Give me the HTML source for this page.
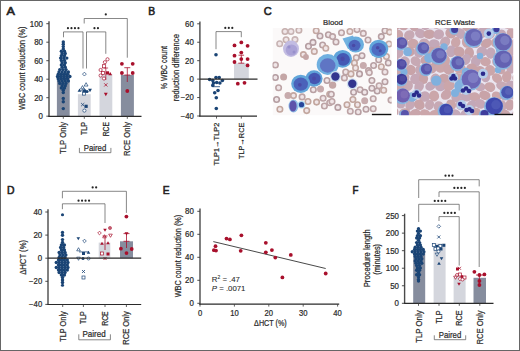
<!DOCTYPE html>
<html><head><meta charset="utf-8"><style>
html,body{margin:0;padding:0;background:#fff;overflow:hidden}
svg{display:block}
</style></head><body>
<svg width="520" height="351" viewBox="0 0 520 351" font-family="Liberation Sans, sans-serif">
<defs><filter id="bl1" x="-5%" y="-5%" width="110%" height="110%"><feGaussianBlur stdDeviation="0.45"/></filter><filter id="bl2" x="-5%" y="-5%" width="110%" height="110%"><feGaussianBlur stdDeviation="0.6"/></filter></defs>
<rect x="0" y="0" width="520" height="351" fill="#fff"/>
<text x="6.6" y="14.8" font-size="10" fill="#222" stroke="#222" stroke-width="0.55" textLength="8.4" lengthAdjust="spacingAndGlyphs">A</text>
<rect x="56.9" y="73.2" width="12.8" height="43" fill="#868d9e"/>
<rect x="77.9" y="94.2" width="12.8" height="22" fill="#d4d6dd"/>
<rect x="99.5" y="74.1" width="12.8" height="42.1" fill="#d4d6dd"/>
<rect x="120.9" y="75" width="13" height="41.2" fill="#868d9e"/>
<circle cx="63.3" cy="42" r="1.7" fill="#1a4475"/>
<circle cx="63.3" cy="44.3" r="1.7" fill="#1a4475"/>
<circle cx="63.3" cy="46.6" r="1.7" fill="#1a4475"/>
<circle cx="63.3" cy="48.9" r="1.7" fill="#1a4475"/>
<circle cx="61.35" cy="51.2" r="1.7" fill="#1a4475"/>
<circle cx="64.45" cy="51.2" r="1.7" fill="#1a4475"/>
<circle cx="62.15" cy="53.5" r="1.7" fill="#1a4475"/>
<circle cx="65.25" cy="53.5" r="1.7" fill="#1a4475"/>
<circle cx="61.35" cy="55.8" r="1.7" fill="#1a4475"/>
<circle cx="64.45" cy="55.8" r="1.7" fill="#1a4475"/>
<circle cx="60.6" cy="58.1" r="1.7" fill="#1a4475"/>
<circle cx="63.7" cy="58.1" r="1.7" fill="#1a4475"/>
<circle cx="66.8" cy="58.1" r="1.7" fill="#1a4475"/>
<circle cx="61.35" cy="60.4" r="1.7" fill="#1a4475"/>
<circle cx="64.45" cy="60.4" r="1.7" fill="#1a4475"/>
<circle cx="62.15" cy="62.7" r="1.7" fill="#1a4475"/>
<circle cx="65.25" cy="62.7" r="1.7" fill="#1a4475"/>
<circle cx="61.35" cy="65" r="1.7" fill="#1a4475"/>
<circle cx="64.45" cy="65" r="1.7" fill="#1a4475"/>
<circle cx="62.15" cy="67.3" r="1.7" fill="#1a4475"/>
<circle cx="65.25" cy="67.3" r="1.7" fill="#1a4475"/>
<circle cx="59.8" cy="69.6" r="1.7" fill="#1a4475"/>
<circle cx="62.9" cy="69.6" r="1.7" fill="#1a4475"/>
<circle cx="66" cy="69.6" r="1.7" fill="#1a4475"/>
<circle cx="59.05" cy="71.9" r="1.7" fill="#1a4475"/>
<circle cx="62.15" cy="71.9" r="1.7" fill="#1a4475"/>
<circle cx="65.25" cy="71.9" r="1.7" fill="#1a4475"/>
<circle cx="68.35" cy="71.9" r="1.7" fill="#1a4475"/>
<circle cx="58.25" cy="74.2" r="1.7" fill="#1a4475"/>
<circle cx="61.35" cy="74.2" r="1.7" fill="#1a4475"/>
<circle cx="64.45" cy="74.2" r="1.7" fill="#1a4475"/>
<circle cx="67.55" cy="74.2" r="1.7" fill="#1a4475"/>
<circle cx="57.5" cy="76.5" r="1.7" fill="#1a4475"/>
<circle cx="60.6" cy="76.5" r="1.7" fill="#1a4475"/>
<circle cx="63.7" cy="76.5" r="1.7" fill="#1a4475"/>
<circle cx="66.8" cy="76.5" r="1.7" fill="#1a4475"/>
<circle cx="69.9" cy="76.5" r="1.7" fill="#1a4475"/>
<circle cx="58.25" cy="78.8" r="1.7" fill="#1a4475"/>
<circle cx="61.35" cy="78.8" r="1.7" fill="#1a4475"/>
<circle cx="64.45" cy="78.8" r="1.7" fill="#1a4475"/>
<circle cx="67.55" cy="78.8" r="1.7" fill="#1a4475"/>
<circle cx="59.05" cy="81.1" r="1.7" fill="#1a4475"/>
<circle cx="62.15" cy="81.1" r="1.7" fill="#1a4475"/>
<circle cx="65.25" cy="81.1" r="1.7" fill="#1a4475"/>
<circle cx="68.35" cy="81.1" r="1.7" fill="#1a4475"/>
<circle cx="59.8" cy="83.4" r="1.7" fill="#1a4475"/>
<circle cx="62.9" cy="83.4" r="1.7" fill="#1a4475"/>
<circle cx="66" cy="83.4" r="1.7" fill="#1a4475"/>
<circle cx="62.15" cy="85.7" r="1.7" fill="#1a4475"/>
<circle cx="65.25" cy="85.7" r="1.7" fill="#1a4475"/>
<circle cx="61.35" cy="88" r="1.7" fill="#1a4475"/>
<circle cx="64.45" cy="88" r="1.7" fill="#1a4475"/>
<circle cx="63.3" cy="90.3" r="1.7" fill="#1a4475"/>
<circle cx="63.3" cy="92.6" r="1.7" fill="#1a4475"/>
<circle cx="63.3" cy="98.4" r="1.7" fill="#1a4475"/>
<circle cx="63.3" cy="101.8" r="1.7" fill="#1a4475"/>
<circle cx="63.3" cy="108.6" r="1.7" fill="#1a4475"/>
<path d="M84.4 72.18L86.32 74.1L84.4 76.02L82.48 74.1Z" fill="#fff" stroke="#1a4475" stroke-width="0.7"/>
<path d="M86.1 82.68L88.02 86.04L84.18 86.04Z" fill="#fff" stroke="#1a4475" stroke-width="0.7"/>
<path d="M82.5 85.58L84.42 88.94L80.58 88.94Z" fill="#fff" stroke="#1a4475" stroke-width="0.7"/>
<path d="M79.5 88.38L81.42 91.74L77.58 91.74Z" fill="#1a4475"/>
<rect x="82.4" y="91.9" width="3.2" height="3.2" fill="#fff" stroke="#1a4475" stroke-width="0.7"/>
<path d="M83.5 87.58L85.42 90.94L81.58 90.94Z" fill="#fff" stroke="#1a4475" stroke-width="0.7"/>
<rect x="82.9" y="89.4" width="3.2" height="3.2" fill="#1a4475"/>
<circle cx="87" cy="91.5" r="1.6" fill="#1a4475"/>
<path d="M90 92.22L91.92 88.86L88.08 88.86Z" fill="#1a4475"/>
<path d="M81.1 103L84.3 106.2M84.3 103L81.1 106.2" stroke="#1a4475" stroke-width="0.8"/>
<rect x="84.5" y="104.7" width="3.2" height="3.2" fill="#1a4475"/>
<circle cx="84.4" cy="110.6" r="1.6" fill="#fff" stroke="#1a4475" stroke-width="0.7"/>
<circle cx="107.5" cy="59.3" r="1.6" fill="#fff" stroke="#a8102c" stroke-width="0.7"/>
<circle cx="104.9" cy="62.2" r="1.6" fill="#fff" stroke="#a8102c" stroke-width="0.7"/>
<rect x="102.5" y="64.7" width="3.2" height="3.2" fill="#fff" stroke="#a8102c" stroke-width="0.7"/>
<circle cx="100.6" cy="70" r="1.6" fill="#fff" stroke="#a8102c" stroke-width="0.7"/>
<rect x="101.4" y="71.4" width="3.2" height="3.2" fill="#fff" stroke="#a8102c" stroke-width="0.7"/>
<rect x="105.9" y="71.3" width="3.2" height="3.2" fill="#a8102c"/>
<path d="M110.2 71.88L112.12 75.24L108.28 75.24Z" fill="#a8102c"/>
<circle cx="100.6" cy="75.5" r="1.6" fill="#fff" stroke="#a8102c" stroke-width="0.7"/>
<circle cx="104" cy="78.5" r="1.6" fill="#fff" stroke="#a8102c" stroke-width="0.7"/>
<path d="M104.2 83.3L107.4 86.5M107.4 83.3L104.2 86.5" stroke="#a8102c" stroke-width="0.8"/>
<path d="M105.8 96.22L107.72 92.86L103.88 92.86Z" fill="#a8102c"/>
<line x1="105.8" y1="68" x2="105.8" y2="80" stroke="#a8102c" stroke-width="0.7"/>
<line x1="103.5" y1="68" x2="108.1" y2="68" stroke="#a8102c" stroke-width="0.7"/>
<circle cx="121.9" cy="63.8" r="1.9" fill="#a8102c"/>
<circle cx="132.7" cy="63.8" r="1.9" fill="#a8102c"/>
<circle cx="121.9" cy="73" r="1.9" fill="#a8102c"/>
<circle cx="132.7" cy="73" r="1.9" fill="#a8102c"/>
<circle cx="127.3" cy="91" r="1.9" fill="#a8102c"/>
<line x1="127.3" y1="67.7" x2="127.3" y2="82" stroke="#a8102c" stroke-width="0.8"/>
<line x1="124.3" y1="67.7" x2="130.3" y2="67.7" stroke="#a8102c" stroke-width="0.8"/>
<line x1="124.3" y1="75" x2="130.3" y2="75" stroke="#a8102c" stroke-width="0.8"/>
<line x1="49" y1="21.2" x2="49" y2="116.8" stroke="#4a4a4a" stroke-width="1.4"/>
<line x1="48.3" y1="116.3" x2="141.5" y2="116.3" stroke="#2a2a2a" stroke-width="1.2"/>
<line x1="46.3" y1="23.7" x2="49" y2="23.7" stroke="#3a3a3a" stroke-width="0.9"/>
<text x="43" y="26.6" font-size="8.2" fill="#2a2a2a" stroke="#2a2a2a" stroke-width="0.22" text-anchor="end" textLength="13.2" lengthAdjust="spacingAndGlyphs">100</text>
<line x1="46.3" y1="42.2" x2="49" y2="42.2" stroke="#3a3a3a" stroke-width="0.9"/>
<text x="43" y="45.1" font-size="8.2" fill="#2a2a2a" stroke="#2a2a2a" stroke-width="0.22" text-anchor="end" textLength="8.8" lengthAdjust="spacingAndGlyphs">80</text>
<line x1="46.3" y1="60.7" x2="49" y2="60.7" stroke="#3a3a3a" stroke-width="0.9"/>
<text x="43" y="63.6" font-size="8.2" fill="#2a2a2a" stroke="#2a2a2a" stroke-width="0.22" text-anchor="end" textLength="8.8" lengthAdjust="spacingAndGlyphs">60</text>
<line x1="46.3" y1="79.2" x2="49" y2="79.2" stroke="#3a3a3a" stroke-width="0.9"/>
<text x="43" y="82.1" font-size="8.2" fill="#2a2a2a" stroke="#2a2a2a" stroke-width="0.22" text-anchor="end" textLength="8.8" lengthAdjust="spacingAndGlyphs">40</text>
<line x1="46.3" y1="97.7" x2="49" y2="97.7" stroke="#3a3a3a" stroke-width="0.9"/>
<text x="43" y="100.6" font-size="8.2" fill="#2a2a2a" stroke="#2a2a2a" stroke-width="0.22" text-anchor="end" textLength="8.8" lengthAdjust="spacingAndGlyphs">20</text>
<line x1="46.3" y1="116.2" x2="49" y2="116.2" stroke="#3a3a3a" stroke-width="0.9"/>
<text x="43" y="119.1" font-size="8.2" fill="#2a2a2a" stroke="#2a2a2a" stroke-width="0.22" text-anchor="end" textLength="4.4" lengthAdjust="spacingAndGlyphs">0</text>
<line x1="63.3" y1="116.2" x2="63.3" y2="118.8" stroke="#3a3a3a" stroke-width="0.8"/>
<line x1="84.3" y1="116.2" x2="84.3" y2="118.8" stroke="#3a3a3a" stroke-width="0.8"/>
<line x1="105.5" y1="116.2" x2="105.5" y2="118.8" stroke="#3a3a3a" stroke-width="0.8"/>
<line x1="127.3" y1="116.2" x2="127.3" y2="118.8" stroke="#3a3a3a" stroke-width="0.8"/>
<text transform="translate(25.4,68.2) rotate(-90)" font-size="8.5" fill="#2a2a2a" stroke="#2a2a2a" stroke-width="0.22" text-anchor="middle" textLength="83.5" lengthAdjust="spacingAndGlyphs">WBC count reduction (%)</text>
<text transform="translate(66.3,122) rotate(-90)" font-size="8.6" fill="#2a2a2a" stroke="#2a2a2a" stroke-width="0.22" text-anchor="end" textLength="32" lengthAdjust="spacingAndGlyphs">TLP Only</text>
<text transform="translate(87.3,122) rotate(-90)" font-size="8.6" fill="#2a2a2a" stroke="#2a2a2a" stroke-width="0.22" text-anchor="end" textLength="13" lengthAdjust="spacingAndGlyphs">TLP</text>
<text transform="translate(108.5,122) rotate(-90)" font-size="8.6" fill="#2a2a2a" stroke="#2a2a2a" stroke-width="0.22" text-anchor="end" textLength="14.3" lengthAdjust="spacingAndGlyphs">RCE</text>
<text transform="translate(130.3,122) rotate(-90)" font-size="8.6" fill="#2a2a2a" stroke="#2a2a2a" stroke-width="0.22" text-anchor="end" textLength="34" lengthAdjust="spacingAndGlyphs">RCE Only</text>
<text x="95" y="150.5" font-size="8.5" fill="#2a2a2a" stroke="#2a2a2a" stroke-width="0.22" text-anchor="middle" textLength="22.5" lengthAdjust="spacingAndGlyphs">Paired</text>
<polyline points="79.4,147.9 79.4,152.7 110.9,152.7 110.9,147.9" fill="none" stroke="#555" stroke-width="0.7"/>
<polyline points="63.5,37.3 63.5,31.9 83,31.9 83,68.5" fill="none" stroke="#555" stroke-width="0.7"/>
<polyline points="86.5,68.5 86.5,31.9 105.8,31.9 105.8,53.8" fill="none" stroke="#555" stroke-width="0.7"/>
<polyline points="84.2,23.5 84.2,18.5 127.3,18.5 127.3,57.7" fill="none" stroke="#555" stroke-width="0.7"/>
<circle cx="67.95" cy="28.2" r="1.1" fill="#262626"/>
<circle cx="71.45" cy="28.2" r="1.1" fill="#262626"/>
<circle cx="74.95" cy="28.2" r="1.1" fill="#262626"/>
<circle cx="78.45" cy="28.2" r="1.1" fill="#262626"/>
<circle cx="94.45" cy="28.2" r="1.1" fill="#262626"/>
<circle cx="97.95" cy="28.2" r="1.1" fill="#262626"/>
<circle cx="105.8" cy="14.4" r="1.1" fill="#262626"/>
<text x="148.2" y="14.5" font-size="10" fill="#222" stroke="#222" stroke-width="0.55" textLength="6.9" lengthAdjust="spacingAndGlyphs">B</text>
<rect x="234" y="63.2" width="14.8" height="15.9" fill="#d4d6dd"/>
<circle cx="234.5" cy="45.4" r="1.9" fill="#a8102c"/>
<circle cx="241.3" cy="42.4" r="1.9" fill="#a8102c"/>
<circle cx="247.6" cy="45.8" r="1.9" fill="#a8102c"/>
<circle cx="241.3" cy="52.6" r="1.9" fill="#a8102c"/>
<circle cx="234.5" cy="55.7" r="1.9" fill="#a8102c"/>
<circle cx="247.6" cy="59.1" r="1.9" fill="#a8102c"/>
<circle cx="241.3" cy="59.1" r="1.9" fill="#a8102c"/>
<circle cx="234.5" cy="62" r="1.9" fill="#a8102c"/>
<circle cx="247.6" cy="65.4" r="1.9" fill="#a8102c"/>
<circle cx="237.8" cy="83.7" r="1.9" fill="#a8102c"/>
<circle cx="244.5" cy="82.8" r="1.9" fill="#a8102c"/>
<line x1="241.3" y1="55.2" x2="241.3" y2="63.2" stroke="#a8102c" stroke-width="0.8"/>
<line x1="238.5" y1="55.2" x2="244.1" y2="55.2" stroke="#a8102c" stroke-width="0.8"/>
<line x1="238.3" y1="63.2" x2="244.3" y2="63.2" stroke="#a8102c" stroke-width="0.8"/>
<circle cx="216" cy="54.8" r="1.8" fill="#1a4475"/>
<circle cx="209.6" cy="79.5" r="1.8" fill="#1a4475"/>
<circle cx="212.8" cy="80.5" r="1.8" fill="#1a4475"/>
<circle cx="216" cy="77.5" r="1.8" fill="#1a4475"/>
<circle cx="219.2" cy="77.5" r="1.8" fill="#1a4475"/>
<circle cx="222.4" cy="80.5" r="1.8" fill="#1a4475"/>
<circle cx="213.5" cy="83" r="1.8" fill="#1a4475"/>
<circle cx="216.7" cy="82.5" r="1.8" fill="#1a4475"/>
<circle cx="219.9" cy="83" r="1.8" fill="#1a4475"/>
<circle cx="212.8" cy="85.4" r="1.8" fill="#1a4475"/>
<circle cx="218" cy="90.5" r="1.8" fill="#1a4475"/>
<circle cx="214.7" cy="92.7" r="1.8" fill="#1a4475"/>
<circle cx="216.3" cy="97.7" r="1.8" fill="#1a4475"/>
<circle cx="216.3" cy="108.5" r="1.8" fill="#1a4475"/>
<line x1="213" y1="86.7" x2="220" y2="86.7" stroke="#1a4475" stroke-width="0.8"/>
<line x1="199.9" y1="21.5" x2="199.9" y2="116.6" stroke="#4a4a4a" stroke-width="1.4"/>
<line x1="199.2" y1="116.1" x2="257" y2="116.1" stroke="#2a2a2a" stroke-width="1.2"/>
<line x1="199.9" y1="79.1" x2="257.5" y2="79.1" stroke="#2a2a2a" stroke-width="1.2"/>
<line x1="197.2" y1="23.8" x2="199.9" y2="23.8" stroke="#3a3a3a" stroke-width="0.9"/>
<text x="193.9" y="26.7" font-size="8.2" fill="#2a2a2a" stroke="#2a2a2a" stroke-width="0.22" text-anchor="end" textLength="8.8" lengthAdjust="spacingAndGlyphs">60</text>
<line x1="197.2" y1="42.24" x2="199.9" y2="42.24" stroke="#3a3a3a" stroke-width="0.9"/>
<text x="193.9" y="45.14" font-size="8.2" fill="#2a2a2a" stroke="#2a2a2a" stroke-width="0.22" text-anchor="end" textLength="8.8" lengthAdjust="spacingAndGlyphs">40</text>
<line x1="197.2" y1="60.68" x2="199.9" y2="60.68" stroke="#3a3a3a" stroke-width="0.9"/>
<text x="193.9" y="63.58" font-size="8.2" fill="#2a2a2a" stroke="#2a2a2a" stroke-width="0.22" text-anchor="end" textLength="8.8" lengthAdjust="spacingAndGlyphs">20</text>
<line x1="197.2" y1="79.12" x2="199.9" y2="79.12" stroke="#3a3a3a" stroke-width="0.9"/>
<text x="193.9" y="82.02" font-size="8.2" fill="#2a2a2a" stroke="#2a2a2a" stroke-width="0.22" text-anchor="end" textLength="4.4" lengthAdjust="spacingAndGlyphs">0</text>
<line x1="197.2" y1="97.56" x2="199.9" y2="97.56" stroke="#3a3a3a" stroke-width="0.9"/>
<text x="193.9" y="100.46" font-size="8.2" fill="#2a2a2a" stroke="#2a2a2a" stroke-width="0.22" text-anchor="end" textLength="13.1" lengthAdjust="spacingAndGlyphs">−20</text>
<line x1="197.2" y1="116" x2="199.9" y2="116" stroke="#3a3a3a" stroke-width="0.9"/>
<text x="193.9" y="118.9" font-size="8.2" fill="#2a2a2a" stroke="#2a2a2a" stroke-width="0.22" text-anchor="end" textLength="13.1" lengthAdjust="spacingAndGlyphs">−40</text>
<line x1="216.5" y1="116" x2="216.5" y2="118.6" stroke="#3a3a3a" stroke-width="0.8"/>
<line x1="241.3" y1="116" x2="241.3" y2="118.6" stroke="#3a3a3a" stroke-width="0.8"/>
<text transform="translate(166.6,67.6) rotate(-90)" font-size="8.3" fill="#2a2a2a" stroke="#2a2a2a" stroke-width="0.22" text-anchor="middle" textLength="43.1" lengthAdjust="spacingAndGlyphs">% WBC count</text>
<text transform="translate(178.6,67.7) rotate(-90)" font-size="8.3" fill="#2a2a2a" stroke="#2a2a2a" stroke-width="0.22" text-anchor="middle" textLength="67.3" lengthAdjust="spacingAndGlyphs">reduction difference</text>
<text transform="translate(218.8,122.6) rotate(-90)" font-size="7.9" fill="#2a2a2a" stroke="#2a2a2a" stroke-width="0.22" text-anchor="end" textLength="43" lengthAdjust="spacingAndGlyphs">TLP1→TLP2</text>
<text transform="translate(243.6,122.6) rotate(-90)" font-size="7.9" fill="#2a2a2a" stroke="#2a2a2a" stroke-width="0.22" text-anchor="end" textLength="36.4" lengthAdjust="spacingAndGlyphs">TLP→RCE</text>
<polyline points="216,49.2 216,31.6 241.3,31.6 241.3,37.2" fill="none" stroke="#555" stroke-width="0.7"/>
<circle cx="225.3" cy="27.9" r="1.1" fill="#262626"/>
<circle cx="228.8" cy="27.9" r="1.1" fill="#262626"/>
<circle cx="232.3" cy="27.9" r="1.1" fill="#262626"/>
<text x="263.7" y="15" font-size="10" fill="#222" stroke="#222" stroke-width="0.55" textLength="8" lengthAdjust="spacingAndGlyphs">C</text>
<text x="333" y="24.8" font-size="8" fill="#2a2a2a" stroke="#2a2a2a" stroke-width="0.22" text-anchor="middle" textLength="19.8" lengthAdjust="spacingAndGlyphs">Blood</text>
<text x="455" y="25.3" font-size="8" fill="#2a2a2a" stroke="#2a2a2a" stroke-width="0.22" text-anchor="middle" textLength="40" lengthAdjust="spacingAndGlyphs">RCE Waste</text>
<svg x="272.5" y="28" width="119.2" height="87.5" viewBox="272.5 28 119.2 87.5" overflow="hidden">
<rect x="272.5" y="28" width="119.2" height="87.5" fill="#fbf9f9"/>
<g filter="url(#bl2)">
<circle cx="285" cy="31.5" r="2.75" fill="#f0e6e8" stroke="#c6b0ae" stroke-width="1.6"/>
<circle cx="291" cy="31.5" r="2.75" fill="#f0e6e8" stroke="#c8b4b4" stroke-width="1.6"/>
<circle cx="298.9" cy="30.2" r="2.75" fill="#f0e6e8" stroke="#c6b0ae" stroke-width="1.6"/>
<circle cx="316.2" cy="30.8" r="2.75" fill="#f0e6e8" stroke="#c4a8a2" stroke-width="1.6"/>
<circle cx="328.4" cy="34.7" r="2.75" fill="#f0e6e8" stroke="#b8a0a3" stroke-width="1.6"/>
<circle cx="286.1" cy="39.8" r="2.75" fill="#f0e6e8" stroke="#c6b0ae" stroke-width="1.6"/>
<circle cx="295" cy="39.6" r="2.75" fill="#f0e6e8" stroke="#c8b4b4" stroke-width="1.6"/>
<circle cx="279.7" cy="43.7" r="2.75" fill="#f0e6e8" stroke="#c8b4b4" stroke-width="1.6"/>
<circle cx="303.4" cy="54.6" r="2.75" fill="#f0e6e8" stroke="#c4a8a2" stroke-width="1.6"/>
<circle cx="308.5" cy="46.2" r="2.75" fill="#f0e6e8" stroke="#b59ea2" stroke-width="1.6"/>
<circle cx="313" cy="42.4" r="2.75" fill="#f0e6e8" stroke="#b59ea2" stroke-width="1.6"/>
<circle cx="314.3" cy="51.4" r="2.75" fill="#f0e6e8" stroke="#c4a8a2" stroke-width="1.6"/>
<circle cx="322.6" cy="45" r="2.75" fill="#f0e6e8" stroke="#b8a0a3" stroke-width="1.6"/>
<circle cx="325.8" cy="48.2" r="2.75" fill="#f0e6e8" stroke="#c4a8a2" stroke-width="1.6"/>
<circle cx="341.5" cy="32.8" r="2.75" fill="#f0e6e8" stroke="#bda4a6" stroke-width="1.6"/>
<circle cx="349.9" cy="31.5" r="2.75" fill="#f0e6e8" stroke="#c4a8a2" stroke-width="1.6"/>
<circle cx="357" cy="29.6" r="2.75" fill="#f0e6e8" stroke="#bda4a6" stroke-width="1.6"/>
<circle cx="363.3" cy="33.4" r="2.75" fill="#f0e6e8" stroke="#bda4a6" stroke-width="1.6"/>
<circle cx="332.6" cy="36.6" r="2.75" fill="#f0e6e8" stroke="#bda4a6" stroke-width="1.6"/>
<circle cx="381.3" cy="36.6" r="2.75" fill="#f0e6e8" stroke="#b8a0a3" stroke-width="1.6"/>
<circle cx="385" cy="30.8" r="2.75" fill="#f0e6e8" stroke="#b8a0a3" stroke-width="1.6"/>
<circle cx="389.6" cy="32.1" r="2.75" fill="#f0e6e8" stroke="#c4a8a2" stroke-width="1.6"/>
<circle cx="356.3" cy="57.8" r="2.75" fill="#f0e6e8" stroke="#bda4a6" stroke-width="1.6"/>
<circle cx="362" cy="55.8" r="2.75" fill="#f0e6e8" stroke="#b59ea2" stroke-width="1.6"/>
<circle cx="354.4" cy="62.9" r="2.75" fill="#f0e6e8" stroke="#c2a69e" stroke-width="1.6"/>
<circle cx="363.3" cy="65.5" r="3.5" fill="#c7abad"/>
<circle cx="355.6" cy="68" r="2.75" fill="#f0e6e8" stroke="#c4a8a2" stroke-width="1.6"/>
<circle cx="378.7" cy="59.7" r="2.75" fill="#f0e6e8" stroke="#b8a0a3" stroke-width="1.6"/>
<circle cx="386.4" cy="56.5" r="2.75" fill="#f0e6e8" stroke="#c4a8a2" stroke-width="1.6"/>
<circle cx="373.6" cy="65.5" r="2.75" fill="#f0e6e8" stroke="#b8a0a3" stroke-width="1.6"/>
<circle cx="381.3" cy="66.7" r="2.75" fill="#f0e6e8" stroke="#c2a69e" stroke-width="1.6"/>
<circle cx="388.3" cy="62.9" r="2.75" fill="#f0e6e8" stroke="#b59ea2" stroke-width="1.6"/>
<circle cx="368.5" cy="70.6" r="2.75" fill="#f0e6e8" stroke="#bda4a6" stroke-width="1.6"/>
<circle cx="278.6" cy="87.7" r="2.75" fill="#f0e6e8" stroke="#bda4a6" stroke-width="1.6"/>
<circle cx="276.6" cy="99.5" r="2.75" fill="#f0e6e8" stroke="#b59ea2" stroke-width="1.6"/>
<circle cx="279.9" cy="109.3" r="2.75" fill="#f0e6e8" stroke="#c2a69e" stroke-width="1.6"/>
<circle cx="288" cy="95.6" r="3.5" fill="#c7abad"/>
<circle cx="293.5" cy="95.6" r="2.75" fill="#f0e6e8" stroke="#c4a8a2" stroke-width="1.6"/>
<circle cx="302.1" cy="96.9" r="2.75" fill="#f0e6e8" stroke="#bda4a6" stroke-width="1.6"/>
<circle cx="308" cy="101.5" r="2.75" fill="#f0e6e8" stroke="#c2a69e" stroke-width="1.6"/>
<circle cx="306.7" cy="110.6" r="2.75" fill="#f0e6e8" stroke="#c2a69e" stroke-width="1.6"/>
<circle cx="313.3" cy="89.7" r="2.75" fill="#f0e6e8" stroke="#b8a0a3" stroke-width="1.6"/>
<circle cx="320.5" cy="89" r="3.5" fill="#c7abad"/>
<circle cx="316.6" cy="102.1" r="2.75" fill="#f0e6e8" stroke="#c2a69e" stroke-width="1.6"/>
<circle cx="323.1" cy="98.2" r="2.75" fill="#f0e6e8" stroke="#bda4a6" stroke-width="1.6"/>
<circle cx="324.4" cy="106" r="2.75" fill="#f0e6e8" stroke="#bda4a6" stroke-width="1.6"/>
<circle cx="329.7" cy="94.2" r="2.75" fill="#f0e6e8" stroke="#c4a8a2" stroke-width="1.6"/>
<circle cx="329.7" cy="102.8" r="2.75" fill="#f0e6e8" stroke="#bda4a6" stroke-width="1.6"/>
<circle cx="327" cy="80.5" r="2.75" fill="#f0e6e8" stroke="#b59ea2" stroke-width="1.6"/>
<circle cx="345.7" cy="72" r="2.75" fill="#f0e6e8" stroke="#bda4a6" stroke-width="1.6"/>
<circle cx="351" cy="73.9" r="2.75" fill="#f0e6e8" stroke="#c2a69e" stroke-width="1.6"/>
<circle cx="359.5" cy="73.9" r="2.75" fill="#f0e6e8" stroke="#b59ea2" stroke-width="1.6"/>
<circle cx="369.3" cy="72.6" r="2.75" fill="#f0e6e8" stroke="#bda4a6" stroke-width="1.6"/>
<circle cx="385" cy="72" r="2.75" fill="#f0e6e8" stroke="#bda4a6" stroke-width="1.6"/>
<circle cx="344.4" cy="77.9" r="2.75" fill="#f0e6e8" stroke="#bda4a6" stroke-width="1.6"/>
<circle cx="371.9" cy="80.5" r="2.75" fill="#f0e6e8" stroke="#b8a0a3" stroke-width="1.6"/>
<circle cx="385" cy="81.8" r="2.75" fill="#f0e6e8" stroke="#b8a0a3" stroke-width="1.6"/>
<circle cx="360.1" cy="89.7" r="2.75" fill="#f0e6e8" stroke="#bda4a6" stroke-width="1.6"/>
<circle cx="364.7" cy="92.3" r="2.75" fill="#f0e6e8" stroke="#b59ea2" stroke-width="1.6"/>
<circle cx="353.6" cy="92.3" r="2.75" fill="#f0e6e8" stroke="#b59ea2" stroke-width="1.6"/>
<circle cx="371.9" cy="88.3" r="2.75" fill="#f0e6e8" stroke="#b59ea2" stroke-width="1.6"/>
<circle cx="377.2" cy="91" r="2.75" fill="#f0e6e8" stroke="#b59ea2" stroke-width="1.6"/>
<circle cx="379.1" cy="85.7" r="2.75" fill="#f0e6e8" stroke="#bda4a6" stroke-width="1.6"/>
<circle cx="383.7" cy="90.3" r="2.75" fill="#f0e6e8" stroke="#c4a8a2" stroke-width="1.6"/>
<circle cx="331.3" cy="94.2" r="2.75" fill="#f0e6e8" stroke="#b8a0a3" stroke-width="1.6"/>
<circle cx="352.9" cy="99.5" r="2.75" fill="#f0e6e8" stroke="#c2a69e" stroke-width="1.6"/>
<circle cx="364.7" cy="100.8" r="3.5" fill="#c7abad"/>
<circle cx="373.2" cy="98.8" r="2.75" fill="#f0e6e8" stroke="#bda4a6" stroke-width="1.6"/>
<circle cx="347" cy="104.7" r="2.75" fill="#f0e6e8" stroke="#c2a69e" stroke-width="1.6"/>
<circle cx="357.5" cy="104.7" r="2.75" fill="#f0e6e8" stroke="#c2a69e" stroke-width="1.6"/>
<circle cx="332" cy="101.5" r="2.75" fill="#f0e6e8" stroke="#bda4a6" stroke-width="1.6"/>
<circle cx="337.9" cy="107.4" r="2.75" fill="#f0e6e8" stroke="#b59ea2" stroke-width="1.6"/>
<circle cx="350.3" cy="111.3" r="2.75" fill="#f0e6e8" stroke="#bda4a6" stroke-width="1.6"/>
<circle cx="358.2" cy="112" r="2.75" fill="#f0e6e8" stroke="#b8a0a3" stroke-width="1.6"/>
<circle cx="366" cy="109.3" r="2.75" fill="#f0e6e8" stroke="#b8a0a3" stroke-width="1.6"/>
<circle cx="373.2" cy="108.7" r="2.75" fill="#f0e6e8" stroke="#bda4a6" stroke-width="1.6"/>
<circle cx="391" cy="100.1" r="2.75" fill="#f0e6e8" stroke="#bda4a6" stroke-width="1.6"/>
<circle cx="275.4" cy="65" r="2.75" fill="#f0e6e8" stroke="#bda4a6" stroke-width="1.6"/>
<circle cx="275.4" cy="77.5" r="2.75" fill="#f0e6e8" stroke="#b59ea2" stroke-width="1.6"/>
<circle cx="320" cy="36" r="2.75" fill="#f0e6e8" stroke="#b59ea2" stroke-width="1.6"/>
<circle cx="336" cy="42" r="2.75" fill="#f0e6e8" stroke="#b8a0a3" stroke-width="1.6"/>
<circle cx="389" cy="44" r="2.75" fill="#f0e6e8" stroke="#c4a8a2" stroke-width="1.6"/>
<circle cx="368" cy="40" r="2.75" fill="#f0e6e8" stroke="#b8a0a3" stroke-width="1.6"/>
<circle cx="283.6" cy="76.9" r="3.5" fill="#c4a6a6"/>
<circle cx="332.6" cy="85.1" r="3.7" fill="#c4a6a6"/>
<circle cx="306" cy="57" r="2.9" fill="#c4a6a6"/>
<ellipse cx="291" cy="48.8" rx="8" ry="8.2" fill="#c2bce2"/>
<ellipse cx="291.5" cy="50" rx="5.8" ry="5.5" fill="#aaa2d6"/>
<circle cx="289" cy="47" r="1.6" fill="#9890cc"/><circle cx="294" cy="52" r="1.5" fill="#9890cc"/>
<path d="M342.5 38.5 L353 35.5 L358 47 L348 49 Z" fill="#72b2e0"/>
<ellipse cx="355.6" cy="44.5" rx="8.4" ry="8" fill="#6aaede"/>
<ellipse cx="354.6" cy="45.3" rx="6" ry="5.5" fill="#4e64bc"/>
<circle cx="353.6" cy="45.5" r="1.8" fill="#4a4aa6"/>
<ellipse cx="378.7" cy="48.8" rx="9.6" ry="9.1" fill="#62a8dc"/>
<ellipse cx="378.7" cy="49.3" rx="7.2" ry="6.6" fill="#4f6cc2"/>
<circle cx="377.7" cy="47.8" r="1.8" fill="#4a4aa6"/>
<circle cx="380.2" cy="50.8" r="1.5" fill="#4a4aa6"/>
<ellipse cx="342.6" cy="58.8" rx="9.4" ry="8.9" fill="#5fa4da"/>
<ellipse cx="343.1" cy="59.4" rx="6.8" ry="6.3" fill="#4458b4"/>
<circle cx="342.6" cy="58.8" r="2.2" fill="#4a4aa6"/>
<ellipse cx="327.7" cy="64.5" rx="11" ry="10.4" fill="#70b0e0"/>
<ellipse cx="327.7" cy="65.5" rx="7.8" ry="7.2" fill="#5f74c4"/>
<ellipse cx="314" cy="78.5" rx="8.6" ry="8.2" fill="#5ea2d8"/>
<ellipse cx="314.5" cy="78.5" rx="6.2" ry="5.7" fill="#4456b2"/>
<circle cx="314" cy="78.5" r="2" fill="#4a4aa6"/>
<ellipse cx="300.8" cy="83.8" rx="9.6" ry="9.1" fill="#62a6da"/>
<ellipse cx="300.8" cy="84.1" rx="7.2" ry="6.6" fill="#4c62ba"/>
<circle cx="299.8" cy="84.8" r="1.9" fill="#4a4aa6"/>
<circle cx="335.4" cy="76.5" r="5.5" fill="#cfe0f0"/>
<circle cx="335.4" cy="76.5" r="4.2" fill="#33358f"/>
<circle cx="352.3" cy="83.8" r="5.5" fill="#cfe0f0"/>
<circle cx="352.3" cy="83.8" r="4.2" fill="#33358f"/>
<ellipse cx="293.5" cy="106" rx="5" ry="6.5" fill="#8fbde6"/>
<ellipse cx="293" cy="106" rx="3.6" ry="5.5" fill="#5d52aa"/>
<circle cx="301.5" cy="104.7" r="3.8" fill="#a8d6ee"/>
<circle cx="301.5" cy="104.7" r="2.6" fill="#26449a"/>
</g>
<rect x="371.9" y="113.8" width="19.6" height="1.6" fill="#111"/>
</svg>
<svg x="397" y="28" width="116.2" height="87.2" viewBox="397 28 116.2 87.2" overflow="hidden">
<rect x="397" y="28" width="116.2" height="87.2" fill="#eae5f0"/>
<g filter="url(#bl2)">
<ellipse cx="394.4" cy="25.7" rx="5.8" ry="5.2" transform="rotate(166 394.4 25.7)" fill="#c8a3a8"/>
<ellipse cx="402.8" cy="24.9" rx="6" ry="4.9" transform="rotate(40 402.8 24.9)" fill="#c9a5ab"/>
<ellipse cx="414" cy="26.1" rx="5.5" ry="4.5" transform="rotate(63 414 26.1)" fill="#c9a5ab"/>
<ellipse cx="425.3" cy="24.7" rx="5.3" ry="5.1" transform="rotate(99 425.3 24.7)" fill="#c6a8b6"/>
<ellipse cx="435.6" cy="23.7" rx="5.7" ry="4.8" transform="rotate(33 435.6 23.7)" fill="#c9a5ab"/>
<ellipse cx="446.4" cy="23.5" rx="5.8" ry="5.2" transform="rotate(42 446.4 23.5)" fill="#c6a8b6"/>
<ellipse cx="454.6" cy="26.4" rx="5.6" ry="4.9" transform="rotate(52 454.6 26.4)" fill="#c6a8b6"/>
<ellipse cx="466.7" cy="25.6" rx="6" ry="5.1" transform="rotate(76 466.7 25.6)" fill="#c9a5ab"/>
<ellipse cx="475.2" cy="24" rx="5.3" ry="4.5" transform="rotate(77 475.2 24)" fill="#c8a3a8"/>
<ellipse cx="486.1" cy="25.3" rx="5.8" ry="4.5" transform="rotate(90 486.1 25.3)" fill="#cba6aa"/>
<ellipse cx="495.9" cy="24.4" rx="5.6" ry="5" transform="rotate(14 495.9 24.4)" fill="#cba6aa"/>
<ellipse cx="507.6" cy="23.6" rx="5.8" ry="5.1" transform="rotate(4 507.6 23.6)" fill="#c8a3a8"/>
<ellipse cx="517.3" cy="24.6" rx="5.7" ry="4.4" transform="rotate(11 517.3 24.6)" fill="#c7a9b4"/>
<ellipse cx="398.1" cy="35.2" rx="5.4" ry="5" transform="rotate(118 398.1 35.2)" fill="#cba6aa"/>
<ellipse cx="409.3" cy="35.1" rx="5.4" ry="4.8" transform="rotate(150 409.3 35.1)" fill="#c7a9b4"/>
<ellipse cx="420.3" cy="33.5" rx="5.4" ry="4.7" transform="rotate(23 420.3 33.5)" fill="#c6a8b6"/>
<ellipse cx="429.2" cy="34.2" rx="5.9" ry="4.7" transform="rotate(179 429.2 34.2)" fill="#c8a3a8"/>
<ellipse cx="438.7" cy="34.4" rx="5.4" ry="5" transform="rotate(160 438.7 34.4)" fill="#c6a8b6"/>
<ellipse cx="450.8" cy="33.3" rx="5.6" ry="5" transform="rotate(20 450.8 33.3)" fill="#c8a3a8"/>
<ellipse cx="460.4" cy="33.6" rx="5.4" ry="4.9" transform="rotate(64 460.4 33.6)" fill="#c3a8b8"/>
<ellipse cx="471" cy="32.8" rx="6" ry="4.9" transform="rotate(126 471 32.8)" fill="#cba6aa"/>
<ellipse cx="481.7" cy="32.8" rx="5.8" ry="5.2" transform="rotate(161 481.7 32.8)" fill="#c3a8b8"/>
<ellipse cx="489.7" cy="33.7" rx="5.3" ry="5.1" transform="rotate(75 489.7 33.7)" fill="#c6a8b6"/>
<ellipse cx="501" cy="35.4" rx="5.9" ry="5.2" transform="rotate(116 501 35.4)" fill="#c3a8b8"/>
<ellipse cx="511.9" cy="33.3" rx="5.4" ry="4.8" transform="rotate(37 511.9 33.3)" fill="#c9a5ab"/>
<ellipse cx="393.6" cy="44.2" rx="6" ry="4.9" transform="rotate(127 393.6 44.2)" fill="#cba6aa"/>
<ellipse cx="403.2" cy="42.7" rx="5.6" ry="4.8" transform="rotate(128 403.2 42.7)" fill="#cba6aa"/>
<ellipse cx="413.1" cy="43.6" rx="5.5" ry="4.9" transform="rotate(8 413.1 43.6)" fill="#cba6aa"/>
<ellipse cx="424.2" cy="43.4" rx="5.4" ry="4.8" transform="rotate(176 424.2 43.4)" fill="#c7a9b4"/>
<ellipse cx="434.2" cy="44.1" rx="5.7" ry="4.9" transform="rotate(2 434.2 44.1)" fill="#c3a8b8"/>
<ellipse cx="445.1" cy="42" rx="5.7" ry="4.8" transform="rotate(128 445.1 42)" fill="#c7a9b4"/>
<ellipse cx="455.7" cy="42.3" rx="5.4" ry="4.7" transform="rotate(104 455.7 42.3)" fill="#cba6aa"/>
<ellipse cx="466.7" cy="41.8" rx="5.9" ry="4.8" transform="rotate(93 466.7 41.8)" fill="#cba6aa"/>
<ellipse cx="475.7" cy="42.8" rx="5.3" ry="5.1" transform="rotate(122 475.7 42.8)" fill="#cba6aa"/>
<ellipse cx="486.4" cy="43.4" rx="5.8" ry="4.5" transform="rotate(148 486.4 43.4)" fill="#c8a3a8"/>
<ellipse cx="496.5" cy="42.5" rx="5.7" ry="5" transform="rotate(163 496.5 42.5)" fill="#cba6aa"/>
<ellipse cx="506.9" cy="41.3" rx="5.3" ry="4.8" transform="rotate(166 506.9 41.3)" fill="#c6a8b6"/>
<ellipse cx="515.6" cy="43.3" rx="5.7" ry="4.4" transform="rotate(120 515.6 43.3)" fill="#c6a8b6"/>
<ellipse cx="398.1" cy="52.8" rx="5.3" ry="5.2" transform="rotate(123 398.1 52.8)" fill="#c6a8b6"/>
<ellipse cx="409.4" cy="51.4" rx="5.5" ry="4.9" transform="rotate(18 409.4 51.4)" fill="#c8a3a8"/>
<ellipse cx="418.6" cy="52.3" rx="5.5" ry="4.7" transform="rotate(71 418.6 52.3)" fill="#c3a8b8"/>
<ellipse cx="430.8" cy="52.2" rx="5.6" ry="5.2" transform="rotate(140 430.8 52.2)" fill="#c8a3a8"/>
<ellipse cx="439.3" cy="51" rx="5.6" ry="5.2" transform="rotate(75 439.3 51)" fill="#cba6aa"/>
<ellipse cx="451.1" cy="51.4" rx="5.9" ry="4.9" transform="rotate(94 451.1 51.4)" fill="#c3a8b8"/>
<ellipse cx="459.2" cy="51.9" rx="5.7" ry="5.2" transform="rotate(34 459.2 51.9)" fill="#c8a3a8"/>
<ellipse cx="469.3" cy="52.6" rx="5.7" ry="4.7" transform="rotate(83 469.3 52.6)" fill="#c8a3a8"/>
<ellipse cx="481.9" cy="51.7" rx="5.5" ry="5.1" transform="rotate(144 481.9 51.7)" fill="#c3a8b8"/>
<ellipse cx="490.7" cy="53.1" rx="5.6" ry="4.8" transform="rotate(97 490.7 53.1)" fill="#c3a8b8"/>
<ellipse cx="502.5" cy="52.9" rx="5.7" ry="4.6" transform="rotate(77 502.5 52.9)" fill="#c3a8b8"/>
<ellipse cx="510.6" cy="50.2" rx="6" ry="4.6" transform="rotate(73 510.6 50.2)" fill="#c6a8b6"/>
<ellipse cx="393.9" cy="59.4" rx="5.7" ry="4.8" transform="rotate(75 393.9 59.4)" fill="#c9a5ab"/>
<ellipse cx="405" cy="61.5" rx="5.2" ry="4.8" transform="rotate(70 405 61.5)" fill="#c6a8b6"/>
<ellipse cx="415.7" cy="61.3" rx="5.4" ry="4.6" transform="rotate(39 415.7 61.3)" fill="#c7a9b4"/>
<ellipse cx="426.1" cy="59.9" rx="5.7" ry="4.8" transform="rotate(165 426.1 59.9)" fill="#c8a3a8"/>
<ellipse cx="435.9" cy="61.7" rx="5.2" ry="4.5" transform="rotate(72 435.9 61.7)" fill="#c8a3a8"/>
<ellipse cx="445.6" cy="60.8" rx="5.8" ry="4.4" transform="rotate(89 445.6 60.8)" fill="#cba6aa"/>
<ellipse cx="455.7" cy="61.4" rx="5.3" ry="4.4" transform="rotate(141 455.7 61.4)" fill="#c3a8b8"/>
<ellipse cx="466" cy="59.3" rx="5.7" ry="4.6" transform="rotate(109 466 59.3)" fill="#c3a8b8"/>
<ellipse cx="475.9" cy="61.1" rx="6" ry="4.9" transform="rotate(98 475.9 61.1)" fill="#c3a8b8"/>
<ellipse cx="485.5" cy="61.6" rx="5.4" ry="4.6" transform="rotate(16 485.5 61.6)" fill="#cba6aa"/>
<ellipse cx="497" cy="61.1" rx="5.5" ry="4.6" transform="rotate(120 497 61.1)" fill="#cba6aa"/>
<ellipse cx="505.1" cy="60.4" rx="5.6" ry="4.8" transform="rotate(84 505.1 60.4)" fill="#c8a3a8"/>
<ellipse cx="515.4" cy="60.8" rx="5.8" ry="4.5" transform="rotate(58 515.4 60.8)" fill="#cba6aa"/>
<ellipse cx="400.1" cy="70.2" rx="5.7" ry="4.4" transform="rotate(109 400.1 70.2)" fill="#c9a5ab"/>
<ellipse cx="410.8" cy="70" rx="5.2" ry="5.1" transform="rotate(56 410.8 70)" fill="#c8a3a8"/>
<ellipse cx="419.9" cy="70.7" rx="5.8" ry="4.5" transform="rotate(74 419.9 70.7)" fill="#c7a9b4"/>
<ellipse cx="431" cy="68.3" rx="5.7" ry="4.7" transform="rotate(41 431 68.3)" fill="#c9a5ab"/>
<ellipse cx="440.3" cy="68" rx="5.3" ry="4.7" transform="rotate(18 440.3 68)" fill="#cba6aa"/>
<ellipse cx="448.8" cy="69.6" rx="5.8" ry="5.1" transform="rotate(34 448.8 69.6)" fill="#c9a5ab"/>
<ellipse cx="460.1" cy="68.8" rx="5.7" ry="4.8" transform="rotate(167 460.1 68.8)" fill="#cba6aa"/>
<ellipse cx="471.7" cy="68.3" rx="5.4" ry="4.9" transform="rotate(173 471.7 68.3)" fill="#c8a3a8"/>
<ellipse cx="480.1" cy="70.7" rx="5.6" ry="4.6" transform="rotate(16 480.1 70.7)" fill="#c8a3a8"/>
<ellipse cx="490.1" cy="70.4" rx="5.4" ry="5.2" transform="rotate(60 490.1 70.4)" fill="#cba6aa"/>
<ellipse cx="501" cy="69" rx="5.3" ry="4.4" transform="rotate(87 501 69)" fill="#c9a5ab"/>
<ellipse cx="511.5" cy="68" rx="5.9" ry="4.8" transform="rotate(116 511.5 68)" fill="#c6a8b6"/>
<ellipse cx="393.7" cy="78.1" rx="6" ry="4.5" transform="rotate(135 393.7 78.1)" fill="#c9a5ab"/>
<ellipse cx="404.3" cy="77.9" rx="5.9" ry="5.2" transform="rotate(109 404.3 77.9)" fill="#c7a9b4"/>
<ellipse cx="415.3" cy="79" rx="5.3" ry="5.1" transform="rotate(125 415.3 79)" fill="#c6a8b6"/>
<ellipse cx="423.5" cy="78.6" rx="5.5" ry="4.6" transform="rotate(85 423.5 78.6)" fill="#c8a3a8"/>
<ellipse cx="435.4" cy="79.1" rx="5.5" ry="5" transform="rotate(91 435.4 79.1)" fill="#c7a9b4"/>
<ellipse cx="444.4" cy="78.6" rx="6" ry="4.7" transform="rotate(9 444.4 78.6)" fill="#c8a3a8"/>
<ellipse cx="456.7" cy="77.4" rx="5.3" ry="4.5" transform="rotate(9 456.7 77.4)" fill="#c9a5ab"/>
<ellipse cx="464.5" cy="77.3" rx="5.6" ry="5.1" transform="rotate(169 464.5 77.3)" fill="#cba6aa"/>
<ellipse cx="474.1" cy="78.2" rx="5.9" ry="4.9" transform="rotate(109 474.1 78.2)" fill="#cba6aa"/>
<ellipse cx="485.7" cy="77" rx="5.3" ry="4.5" transform="rotate(95 485.7 77)" fill="#c3a8b8"/>
<ellipse cx="497.1" cy="78.2" rx="5.6" ry="4.5" transform="rotate(41 497.1 78.2)" fill="#cba6aa"/>
<ellipse cx="506.7" cy="76.8" rx="5.9" ry="4.7" transform="rotate(94 506.7 76.8)" fill="#cba6aa"/>
<ellipse cx="517.7" cy="78.8" rx="5.7" ry="4.8" transform="rotate(39 517.7 78.8)" fill="#c9a5ab"/>
<ellipse cx="400" cy="86.6" rx="5.6" ry="4.6" transform="rotate(41 400 86.6)" fill="#c9a5ab"/>
<ellipse cx="408.4" cy="85.7" rx="5.4" ry="4.5" transform="rotate(102 408.4 85.7)" fill="#c7a9b4"/>
<ellipse cx="419.1" cy="86.6" rx="5.6" ry="4.6" transform="rotate(119 419.1 86.6)" fill="#c6a8b6"/>
<ellipse cx="430.5" cy="86.1" rx="5.4" ry="4.4" transform="rotate(155 430.5 86.1)" fill="#c3a8b8"/>
<ellipse cx="440.6" cy="86.4" rx="5.6" ry="4.8" transform="rotate(174 440.6 86.4)" fill="#c3a8b8"/>
<ellipse cx="449.1" cy="85.7" rx="5.9" ry="5.1" transform="rotate(144 449.1 85.7)" fill="#cba6aa"/>
<ellipse cx="461.6" cy="87.8" rx="5.4" ry="5" transform="rotate(23 461.6 87.8)" fill="#c3a8b8"/>
<ellipse cx="469.2" cy="86.3" rx="5.2" ry="4.7" transform="rotate(15 469.2 86.3)" fill="#c9a5ab"/>
<ellipse cx="480" cy="86.8" rx="5.4" ry="4.4" transform="rotate(9 480 86.8)" fill="#c6a8b6"/>
<ellipse cx="489.9" cy="87.1" rx="5.5" ry="4.8" transform="rotate(21 489.9 87.1)" fill="#cba6aa"/>
<ellipse cx="502" cy="85.9" rx="6" ry="4.5" transform="rotate(19 502 85.9)" fill="#c7a9b4"/>
<ellipse cx="510.4" cy="85.7" rx="5.6" ry="4.8" transform="rotate(146 510.4 85.7)" fill="#c3a8b8"/>
<ellipse cx="394.1" cy="94.9" rx="5.2" ry="5" transform="rotate(176 394.1 94.9)" fill="#c3a8b8"/>
<ellipse cx="405.4" cy="97.5" rx="5.6" ry="4.5" transform="rotate(123 405.4 97.5)" fill="#c9a5ab"/>
<ellipse cx="415.2" cy="95.3" rx="5.5" ry="4.5" transform="rotate(137 415.2 95.3)" fill="#c9a5ab"/>
<ellipse cx="424.5" cy="96.6" rx="5.8" ry="5.2" transform="rotate(170 424.5 96.6)" fill="#c6a8b6"/>
<ellipse cx="434.1" cy="96" rx="5.4" ry="5" transform="rotate(73 434.1 96)" fill="#cba6aa"/>
<ellipse cx="446.2" cy="94.7" rx="5.8" ry="4.7" transform="rotate(142 446.2 94.7)" fill="#c9a5ab"/>
<ellipse cx="456.4" cy="96.5" rx="5.8" ry="4.9" transform="rotate(113 456.4 96.5)" fill="#c6a8b6"/>
<ellipse cx="466.4" cy="96.5" rx="6" ry="5" transform="rotate(179 466.4 96.5)" fill="#c3a8b8"/>
<ellipse cx="474.9" cy="96.9" rx="5.5" ry="4.5" transform="rotate(16 474.9 96.9)" fill="#cba6aa"/>
<ellipse cx="484.8" cy="95.3" rx="5.7" ry="4.6" transform="rotate(16 484.8 95.3)" fill="#c8a3a8"/>
<ellipse cx="496.8" cy="96.2" rx="5.2" ry="4.4" transform="rotate(33 496.8 96.2)" fill="#cba6aa"/>
<ellipse cx="506" cy="95.3" rx="6" ry="4.4" transform="rotate(135 506 95.3)" fill="#c3a8b8"/>
<ellipse cx="515.3" cy="95.1" rx="5.5" ry="4.5" transform="rotate(158 515.3 95.1)" fill="#c6a8b6"/>
<ellipse cx="399.8" cy="103.7" rx="5.6" ry="4.5" transform="rotate(36 399.8 103.7)" fill="#c3a8b8"/>
<ellipse cx="410.1" cy="104.7" rx="5.5" ry="4.7" transform="rotate(114 410.1 104.7)" fill="#c6a8b6"/>
<ellipse cx="419.4" cy="104.7" rx="5.6" ry="5" transform="rotate(41 419.4 104.7)" fill="#c8a3a8"/>
<ellipse cx="429.6" cy="104.8" rx="5.2" ry="4.5" transform="rotate(107 429.6 104.8)" fill="#c7a9b4"/>
<ellipse cx="438.6" cy="106.3" rx="5.2" ry="4.9" transform="rotate(123 438.6 106.3)" fill="#c7a9b4"/>
<ellipse cx="451.2" cy="104.5" rx="5.4" ry="4.6" transform="rotate(51 451.2 104.5)" fill="#cba6aa"/>
<ellipse cx="460.5" cy="104.4" rx="5.8" ry="4.6" transform="rotate(90 460.5 104.4)" fill="#c6a8b6"/>
<ellipse cx="471.4" cy="105.4" rx="5.9" ry="4.4" transform="rotate(126 471.4 105.4)" fill="#c3a8b8"/>
<ellipse cx="480.2" cy="103.8" rx="5.4" ry="4.7" transform="rotate(24 480.2 103.8)" fill="#c6a8b6"/>
<ellipse cx="490.6" cy="105.6" rx="5.4" ry="5.1" transform="rotate(82 490.6 105.6)" fill="#c3a8b8"/>
<ellipse cx="501.6" cy="106" rx="5.7" ry="5" transform="rotate(96 501.6 106)" fill="#c7a9b4"/>
<ellipse cx="509.8" cy="104.9" rx="5.7" ry="4.5" transform="rotate(99 509.8 104.9)" fill="#c9a5ab"/>
<ellipse cx="393.5" cy="112.3" rx="5.4" ry="4.7" transform="rotate(121 393.5 112.3)" fill="#c8a3a8"/>
<ellipse cx="404.8" cy="113.4" rx="6" ry="5.1" transform="rotate(177 404.8 113.4)" fill="#c8a3a8"/>
<ellipse cx="414.9" cy="113.9" rx="5.8" ry="4.7" transform="rotate(151 414.9 113.9)" fill="#c9a5ab"/>
<ellipse cx="425.1" cy="113.8" rx="5.4" ry="4.5" transform="rotate(22 425.1 113.8)" fill="#cba6aa"/>
<ellipse cx="435.1" cy="114.8" rx="6" ry="4.7" transform="rotate(3 435.1 114.8)" fill="#cba6aa"/>
<ellipse cx="446.3" cy="112.9" rx="5.2" ry="4.5" transform="rotate(76 446.3 112.9)" fill="#cba6aa"/>
<ellipse cx="455.8" cy="114.8" rx="5.8" ry="4.9" transform="rotate(53 455.8 114.8)" fill="#c3a8b8"/>
<ellipse cx="465.5" cy="114.9" rx="5.4" ry="5.2" transform="rotate(139 465.5 114.9)" fill="#c3a8b8"/>
<ellipse cx="475.3" cy="112.2" rx="5.5" ry="4.5" transform="rotate(167 475.3 112.2)" fill="#c8a3a8"/>
<ellipse cx="487" cy="115" rx="5.7" ry="4.7" transform="rotate(27 487 115)" fill="#c7a9b4"/>
<ellipse cx="497.2" cy="114.3" rx="6" ry="4.6" transform="rotate(25 497.2 114.3)" fill="#c6a8b6"/>
<ellipse cx="505.6" cy="114.6" rx="5.8" ry="4.5" transform="rotate(42 505.6 114.6)" fill="#c9a5ab"/>
<ellipse cx="516.8" cy="114.5" rx="5.4" ry="4.5" transform="rotate(144 516.8 114.5)" fill="#c7a9b4"/>
<circle cx="407.6" cy="51.8" r="4.4" fill="#80b0de"/>
<circle cx="429" cy="58" r="4.8" fill="#80b0de"/>
<circle cx="436.3" cy="80.6" r="5.2" fill="#80b0de"/>
<circle cx="461" cy="86" r="6.8" fill="#80b0de"/>
<circle cx="412" cy="97" r="4.8" fill="#80b0de"/>
<circle cx="480" cy="56" r="3.2" fill="#80b0de"/>
<circle cx="444" cy="47" r="3.7" fill="#80b0de"/>
<circle cx="500" cy="50" r="4.2" fill="#80b0de"/>
<circle cx="466" cy="72" r="4.2" fill="#80b0de"/>
<circle cx="498" cy="70" r="3.2" fill="#80b0de"/>
<circle cx="455" cy="93" r="4" fill="#80b0de"/>
<circle cx="404" cy="72" r="3.5" fill="#80b0de"/>
<circle cx="400.7" cy="43.7" r="6.8" fill="#86b4e0"/>
<circle cx="401.4" cy="43" r="5.8" fill="#5b55aa"/>
<circle cx="402.6" cy="42.1" r="3.2" fill="#7a76c0" opacity="0.55"/>
<circle cx="422.6" cy="48.7" r="6.8" fill="#86b4e0"/>
<circle cx="423.3" cy="48" r="5.8" fill="#5d5bae"/>
<circle cx="424.5" cy="47.1" r="3.2" fill="#7c82c8" opacity="0.55"/>
<circle cx="438.3" cy="56.2" r="8.6" fill="#86b4e0"/>
<circle cx="439" cy="55.5" r="7.6" fill="#6160b2"/>
<circle cx="440.5" cy="54.4" r="4.2" fill="#8488cc" opacity="0.55"/>
<circle cx="400.7" cy="65" r="6.2" fill="#86b4e0"/>
<circle cx="401.4" cy="64.3" r="5.2" fill="#4f49a2"/>
<circle cx="402.4" cy="63.5" r="2.9" fill="#6a64b2" opacity="0.55"/>
<circle cx="425.7" cy="69.7" r="6.6" fill="#86b4e0"/>
<circle cx="426.4" cy="69" r="5.6" fill="#5a56ac"/>
<circle cx="427.5" cy="68.2" r="3.1" fill="#7a7cc2" opacity="0.55"/>
<circle cx="457.1" cy="63.5" r="7.5" fill="#86b4e0"/>
<circle cx="457.8" cy="62.8" r="6.5" fill="#5f5db0"/>
<circle cx="459.1" cy="61.8" r="3.6" fill="#8086c8" opacity="0.55"/>
<circle cx="473.1" cy="38.1" r="9.6" fill="#86b4e0"/>
<circle cx="473.8" cy="37.4" r="8.6" fill="#6866b4"/>
<circle cx="475.5" cy="36.1" r="4.7" fill="#8a90d0" opacity="0.55"/>
<circle cx="502.5" cy="42.5" r="9.6" fill="#86b4e0"/>
<circle cx="503.2" cy="41.8" r="8.6" fill="#6664b2"/>
<circle cx="504.9" cy="40.5" r="4.7" fill="#8a8ece" opacity="0.55"/>
<circle cx="502.5" cy="60" r="9.8" fill="#86b4e0"/>
<circle cx="503.2" cy="59.3" r="8.8" fill="#6462b2"/>
<circle cx="505" cy="58" r="4.8" fill="#8a8ece" opacity="0.55"/>
<circle cx="402.2" cy="96.3" r="8" fill="#86b4e0"/>
<circle cx="402.9" cy="95.6" r="7" fill="#6f5eb0"/>
<circle cx="404.3" cy="94.5" r="3.9" fill="#8a78bc" opacity="0.55"/>
<circle cx="445.4" cy="111.3" r="7.8" fill="#86b4e0"/>
<circle cx="446.1" cy="110.6" r="6.8" fill="#4048ac"/>
<circle cx="447.5" cy="109.6" r="3.7" fill="#5a62bc" opacity="0.55"/>
<circle cx="470.6" cy="79.9" r="10.6" fill="#86b4e0"/>
<circle cx="471.3" cy="79.2" r="9.6" fill="#6c66b6"/>
<circle cx="473.2" cy="77.8" r="5.3" fill="#8e90cf" opacity="0.55"/>
<circle cx="506.7" cy="93" r="7.2" fill="#86b4e0"/>
<circle cx="507.4" cy="92.3" r="6.2" fill="#4a55b0"/>
<circle cx="508.6" cy="91.4" r="3.4" fill="#6670c0" opacity="0.55"/>
<circle cx="493.6" cy="106.7" r="9.6" fill="#86b4e0"/>
<circle cx="494.3" cy="106" r="8.6" fill="#3f4aae"/>
<circle cx="496" cy="104.7" r="4.7" fill="#5a64be" opacity="0.55"/>
<circle cx="400.9" cy="79.9" r="6.5" fill="#86b4e0"/>
<circle cx="401.6" cy="79.2" r="5.5" fill="#3e3a98"/>
<circle cx="402.7" cy="78.4" r="3" fill="#5a56a8" opacity="0.55"/>
<circle cx="453.9" cy="30.2" r="4.5" fill="#86b4e0"/>
<circle cx="454.6" cy="29.5" r="3.5" fill="#3f3c9c"/>
<circle cx="455.3" cy="29" r="1.9" fill="#3f3c9c" opacity="0.55"/>
<circle cx="495.7" cy="30" r="4" fill="#86b4e0"/>
<circle cx="496.4" cy="29.3" r="3" fill="#3f3c9c"/>
<circle cx="497" cy="28.9" r="1.7" fill="#3f3c9c" opacity="0.55"/>
<circle cx="483.8" cy="114.7" r="5" fill="#86b4e0"/>
<circle cx="484.5" cy="114" r="4" fill="#3f3c9c"/>
<circle cx="485.3" cy="113.4" r="2.2" fill="#3f3c9c" opacity="0.55"/>
<circle cx="404.2" cy="114.7" r="5" fill="#86b4e0"/>
<circle cx="404.9" cy="114" r="4" fill="#5a52aa"/>
<circle cx="405.7" cy="113.4" r="2.2" fill="#5a52aa" opacity="0.55"/>
<circle cx="416.6" cy="94.3" r="5" fill="#b4cdea"/>
<circle cx="453.3" cy="77.7" r="5" fill="#b4cdea"/>
<circle cx="466" cy="90" r="5" fill="#b4cdea"/>
<circle cx="461.6" cy="105" r="5" fill="#b4cdea"/>
<circle cx="469.3" cy="110.1" r="5" fill="#b4cdea"/>
<circle cx="488.8" cy="33.6" r="5" fill="#b4cdea"/>
<circle cx="483" cy="73.7" r="5" fill="#b4cdea"/>
<circle cx="416.7" cy="92.5" r="2.3" fill="#2c2a8c"/>
<circle cx="414" cy="95" r="2.3" fill="#2c2a8c"/>
<circle cx="419" cy="95.5" r="2.3" fill="#2c2a8c"/>
<circle cx="453.4" cy="76" r="2.3" fill="#2c2a8c"/>
<circle cx="451.5" cy="78.5" r="2.3" fill="#2c2a8c"/>
<circle cx="455" cy="78.5" r="2.3" fill="#2c2a8c"/>
<circle cx="466.1" cy="88.5" r="2.3" fill="#2c2a8c"/>
<circle cx="463" cy="90.5" r="2.3" fill="#2c2a8c"/>
<circle cx="469" cy="91" r="2.3" fill="#2c2a8c"/>
<circle cx="460.2" cy="104.1" r="2.3" fill="#2c2a8c"/>
<circle cx="463" cy="106" r="2.3" fill="#2c2a8c"/>
<circle cx="469.4" cy="109.3" r="2.3" fill="#2c2a8c"/>
<circle cx="472" cy="111" r="2.3" fill="#2c2a8c"/>
<circle cx="466.5" cy="110" r="2.3" fill="#2c2a8c"/>
<circle cx="488.8" cy="33.6" r="2.3" fill="#2c2a8c"/>
<circle cx="483" cy="73.7" r="2.3" fill="#2c2a8c"/>
</g>
<rect x="494.5" y="113.8" width="18.5" height="1.6" fill="#111"/>
</svg>
<text x="7" y="194" font-size="10" fill="#222" stroke="#222" stroke-width="0.55" textLength="7.5" lengthAdjust="spacingAndGlyphs">D</text>
<rect x="98.7" y="242.6" width="11.6" height="15.6" fill="#d4d6dd"/>
<rect x="120" y="241.3" width="13" height="16.9" fill="#868d9e"/>
<circle cx="62.5" cy="232.4" r="1.7" fill="#1a4475"/>
<circle cx="62.5" cy="235.3" r="1.7" fill="#1a4475"/>
<circle cx="62.5" cy="239.6" r="1.7" fill="#1a4475"/>
<circle cx="62.5" cy="242.5" r="1.75" fill="#1a4475"/>
<circle cx="61.45" cy="245" r="1.75" fill="#1a4475"/>
<circle cx="64.35" cy="245" r="1.75" fill="#1a4475"/>
<circle cx="60.65" cy="247.5" r="1.75" fill="#1a4475"/>
<circle cx="63.55" cy="247.5" r="1.75" fill="#1a4475"/>
<circle cx="61.45" cy="250" r="1.75" fill="#1a4475"/>
<circle cx="64.35" cy="250" r="1.75" fill="#1a4475"/>
<circle cx="59.2" cy="252.5" r="1.75" fill="#1a4475"/>
<circle cx="62.1" cy="252.5" r="1.75" fill="#1a4475"/>
<circle cx="65" cy="252.5" r="1.75" fill="#1a4475"/>
<circle cx="60" cy="255" r="1.75" fill="#1a4475"/>
<circle cx="62.9" cy="255" r="1.75" fill="#1a4475"/>
<circle cx="65.8" cy="255" r="1.75" fill="#1a4475"/>
<circle cx="59.2" cy="257.5" r="1.75" fill="#1a4475"/>
<circle cx="62.1" cy="257.5" r="1.75" fill="#1a4475"/>
<circle cx="65" cy="257.5" r="1.75" fill="#1a4475"/>
<circle cx="58.55" cy="260" r="1.75" fill="#1a4475"/>
<circle cx="61.45" cy="260" r="1.75" fill="#1a4475"/>
<circle cx="64.35" cy="260" r="1.75" fill="#1a4475"/>
<circle cx="67.25" cy="260" r="1.75" fill="#1a4475"/>
<circle cx="56.3" cy="262.5" r="1.75" fill="#1a4475"/>
<circle cx="59.2" cy="262.5" r="1.75" fill="#1a4475"/>
<circle cx="62.1" cy="262.5" r="1.75" fill="#1a4475"/>
<circle cx="65" cy="262.5" r="1.75" fill="#1a4475"/>
<circle cx="67.9" cy="262.5" r="1.75" fill="#1a4475"/>
<circle cx="58.55" cy="265" r="1.75" fill="#1a4475"/>
<circle cx="61.45" cy="265" r="1.75" fill="#1a4475"/>
<circle cx="64.35" cy="265" r="1.75" fill="#1a4475"/>
<circle cx="67.25" cy="265" r="1.75" fill="#1a4475"/>
<circle cx="56.3" cy="267.5" r="1.75" fill="#1a4475"/>
<circle cx="59.2" cy="267.5" r="1.75" fill="#1a4475"/>
<circle cx="62.1" cy="267.5" r="1.75" fill="#1a4475"/>
<circle cx="65" cy="267.5" r="1.75" fill="#1a4475"/>
<circle cx="67.9" cy="267.5" r="1.75" fill="#1a4475"/>
<circle cx="58.55" cy="270" r="1.75" fill="#1a4475"/>
<circle cx="61.45" cy="270" r="1.75" fill="#1a4475"/>
<circle cx="64.35" cy="270" r="1.75" fill="#1a4475"/>
<circle cx="67.25" cy="270" r="1.75" fill="#1a4475"/>
<circle cx="59.2" cy="272.5" r="1.75" fill="#1a4475"/>
<circle cx="62.1" cy="272.5" r="1.75" fill="#1a4475"/>
<circle cx="65" cy="272.5" r="1.75" fill="#1a4475"/>
<circle cx="61.45" cy="275" r="1.75" fill="#1a4475"/>
<circle cx="64.35" cy="275" r="1.75" fill="#1a4475"/>
<circle cx="62.5" cy="277.5" r="1.75" fill="#1a4475"/>
<circle cx="62.5" cy="280" r="1.75" fill="#1a4475"/>
<circle cx="62.5" cy="282.5" r="1.75" fill="#1a4475"/>
<circle cx="62.5" cy="285.2" r="1.55" fill="#1a4475"/>
<circle cx="62.5" cy="214.7" r="1.55" fill="#1a4475"/>
<path d="M78.3 240.3L80.1 237.15L76.5 237.15Z" fill="#1a4475"/>
<path d="M84.5 239.2L86.3 241L84.5 242.8L82.7 241Z" fill="#fff" stroke="#1a4475" stroke-width="0.7"/>
<path d="M78.5 247.7L80.3 250.85L76.7 250.85Z" fill="#fff" stroke="#1a4475" stroke-width="0.7"/>
<rect x="82" y="252" width="3" height="3" fill="#1a4475"/>
<path d="M88.5 250.7L90.3 253.85L86.7 253.85Z" fill="#1a4475"/>
<path d="M78.5 260.3L80.3 257.15L76.7 257.15Z" fill="#fff" stroke="#1a4475" stroke-width="0.7"/>
<circle cx="83" cy="258.5" r="1.5" fill="#1a4475"/>
<circle cx="88.5" cy="258.5" r="1.5" fill="#fff" stroke="#1a4475" stroke-width="0.7"/>
<path d="M82 270L85 273M85 270L82 273" stroke="#1a4475" stroke-width="0.8"/>
<rect x="82" y="276" width="3" height="3" fill="#fff" stroke="#1a4475" stroke-width="0.7"/>
<line x1="79" y1="251.9" x2="89" y2="251.9" stroke="#1a4475" stroke-width="0.8"/>
<path d="M99.5 231.2L101.3 233L99.5 234.8L97.7 233Z" fill="#fff" stroke="#a8102c" stroke-width="0.7"/>
<path d="M105 231.8L106.8 228.65L103.2 228.65Z" fill="#a8102c"/>
<circle cx="110" cy="228" r="1.5" fill="#fff" stroke="#a8102c" stroke-width="0.7"/>
<path d="M108.95 226.95L111.05 229.05M111.05 226.95L108.95 229.05" stroke="#a8102c" stroke-width="0.6"/>
<path d="M104.5 234.7L106.3 237.85L102.7 237.85Z" fill="#fff" stroke="#a8102c" stroke-width="0.7"/>
<path d="M110.5 237.3L112.3 234.15L108.7 234.15Z" fill="#fff" stroke="#a8102c" stroke-width="0.7"/>
<path d="M102 241.7L103.8 244.85L100.2 244.85Z" fill="#a8102c"/>
<path d="M108 241.2L109.8 244.35L106.2 244.35Z" fill="#a8102c"/>
<rect x="100.5" y="252" width="3" height="3" fill="#fff" stroke="#a8102c" stroke-width="0.7"/>
<rect x="106.5" y="252.5" width="3" height="3" fill="#a8102c"/>
<path d="M103.5 257L106.5 260M106.5 257L103.5 260" stroke="#a8102c" stroke-width="0.8"/>
<line x1="105" y1="236" x2="105" y2="250" stroke="#a8102c" stroke-width="0.8"/>
<line x1="102.5" y1="236" x2="107.5" y2="236" stroke="#a8102c" stroke-width="0.8"/>
<circle cx="126.4" cy="216.6" r="1.9" fill="#a8102c"/>
<circle cx="120.9" cy="248.7" r="1.9" fill="#a8102c"/>
<circle cx="131.7" cy="249" r="1.9" fill="#a8102c"/>
<circle cx="126.5" cy="253.1" r="1.9" fill="#a8102c"/>
<line x1="126.5" y1="233.6" x2="126.5" y2="248" stroke="#a8102c" stroke-width="0.8"/>
<line x1="123.5" y1="233.6" x2="129.5" y2="233.6" stroke="#a8102c" stroke-width="0.8"/>
<path d="M126.5 235.52L128.42 232.16L124.58 232.16Z" fill="#a8102c"/>
<line x1="123.5" y1="241.3" x2="129.5" y2="241.3" stroke="#a8102c" stroke-width="0.8"/>
<line x1="48" y1="209.3" x2="48" y2="305.1" stroke="#4a4a4a" stroke-width="1.4"/>
<line x1="47.3" y1="304.5" x2="141.2" y2="304.5" stroke="#2a2a2a" stroke-width="1.2"/>
<line x1="48" y1="258.2" x2="141.2" y2="258.2" stroke="#2a2a2a" stroke-width="1.2"/>
<line x1="45.3" y1="212" x2="48" y2="212" stroke="#3a3a3a" stroke-width="0.9"/>
<text x="42.2" y="214.9" font-size="8.2" fill="#2a2a2a" stroke="#2a2a2a" stroke-width="0.22" text-anchor="end" textLength="8.8" lengthAdjust="spacingAndGlyphs">40</text>
<line x1="45.3" y1="235.1" x2="48" y2="235.1" stroke="#3a3a3a" stroke-width="0.9"/>
<text x="42.2" y="238" font-size="8.2" fill="#2a2a2a" stroke="#2a2a2a" stroke-width="0.22" text-anchor="end" textLength="8.8" lengthAdjust="spacingAndGlyphs">20</text>
<line x1="45.3" y1="258.2" x2="48" y2="258.2" stroke="#3a3a3a" stroke-width="0.9"/>
<text x="42.2" y="261.1" font-size="8.2" fill="#2a2a2a" stroke="#2a2a2a" stroke-width="0.22" text-anchor="end" textLength="4.4" lengthAdjust="spacingAndGlyphs">0</text>
<line x1="45.3" y1="281.3" x2="48" y2="281.3" stroke="#3a3a3a" stroke-width="0.9"/>
<text x="42.2" y="284.2" font-size="8.2" fill="#2a2a2a" stroke="#2a2a2a" stroke-width="0.22" text-anchor="end" textLength="13.1" lengthAdjust="spacingAndGlyphs">−20</text>
<line x1="45.3" y1="304.4" x2="48" y2="304.4" stroke="#3a3a3a" stroke-width="0.9"/>
<text x="42.2" y="307.3" font-size="8.2" fill="#2a2a2a" stroke="#2a2a2a" stroke-width="0.22" text-anchor="end" textLength="13.1" lengthAdjust="spacingAndGlyphs">−40</text>
<line x1="62.7" y1="304.5" x2="62.7" y2="307" stroke="#3a3a3a" stroke-width="0.8"/>
<line x1="83.4" y1="304.5" x2="83.4" y2="307" stroke="#3a3a3a" stroke-width="0.8"/>
<line x1="105" y1="304.5" x2="105" y2="307" stroke="#3a3a3a" stroke-width="0.8"/>
<line x1="126.4" y1="304.5" x2="126.4" y2="307" stroke="#3a3a3a" stroke-width="0.8"/>
<text transform="translate(25.6,257.4) rotate(-90)" font-size="8.6" fill="#2a2a2a" stroke="#2a2a2a" stroke-width="0.22" text-anchor="middle" textLength="34.8" lengthAdjust="spacingAndGlyphs">ΔHCT (%)</text>
<text transform="translate(65.7,311.3) rotate(-90)" font-size="8.6" fill="#2a2a2a" stroke="#2a2a2a" stroke-width="0.22" text-anchor="end" textLength="30.5" lengthAdjust="spacingAndGlyphs">TLP Only</text>
<text transform="translate(86.4,311.3) rotate(-90)" font-size="8.6" fill="#2a2a2a" stroke="#2a2a2a" stroke-width="0.22" text-anchor="end" textLength="12.8" lengthAdjust="spacingAndGlyphs">TLP</text>
<text transform="translate(108,311.3) rotate(-90)" font-size="8.6" fill="#2a2a2a" stroke="#2a2a2a" stroke-width="0.22" text-anchor="end" textLength="14.5" lengthAdjust="spacingAndGlyphs">RCE</text>
<text transform="translate(129.4,311.3) rotate(-90)" font-size="8.6" fill="#2a2a2a" stroke="#2a2a2a" stroke-width="0.22" text-anchor="end" textLength="33.4" lengthAdjust="spacingAndGlyphs">RCE Only</text>
<text x="94.1" y="337.4" font-size="8.5" fill="#2a2a2a" stroke="#2a2a2a" stroke-width="0.22" text-anchor="middle" textLength="23.2" lengthAdjust="spacingAndGlyphs">Paired</text>
<polyline points="78.8,334.3 78.8,339.8 110.4,339.8 110.4,334.3" fill="none" stroke="#555" stroke-width="0.7"/>
<polyline points="62.4,198.3 62.4,191.3 126.4,191.3 126.4,212.9" fill="none" stroke="#555" stroke-width="0.7"/>
<polyline points="62.4,209.2 62.4,203.8 105,203.8 105,223" fill="none" stroke="#555" stroke-width="0.7"/>
<circle cx="92.65" cy="187.4" r="1.1" fill="#262626"/>
<circle cx="96.15" cy="187.4" r="1.1" fill="#262626"/>
<circle cx="78.55" cy="200.7" r="1.1" fill="#262626"/>
<circle cx="82.05" cy="200.7" r="1.1" fill="#262626"/>
<circle cx="85.55" cy="200.7" r="1.1" fill="#262626"/>
<circle cx="89.05" cy="200.7" r="1.1" fill="#262626"/>
<text x="162.8" y="194.1" font-size="10" fill="#222" stroke="#222" stroke-width="0.55" textLength="6.8" lengthAdjust="spacingAndGlyphs">E</text>
<line x1="213.3" y1="241.6" x2="325.7" y2="268.5" stroke="#333" stroke-width="0.9"/>
<circle cx="213.9" cy="250.2" r="1.9" fill="#a8102c"/>
<circle cx="216" cy="250.6" r="1.9" fill="#a8102c"/>
<circle cx="215.5" cy="246.2" r="1.9" fill="#a8102c"/>
<circle cx="226.5" cy="238.6" r="1.9" fill="#a8102c"/>
<circle cx="229.9" cy="239.4" r="1.9" fill="#a8102c"/>
<circle cx="241.4" cy="235.3" r="1.9" fill="#a8102c"/>
<circle cx="240.7" cy="250.8" r="1.9" fill="#a8102c"/>
<circle cx="265.8" cy="242.8" r="1.9" fill="#a8102c"/>
<circle cx="265.8" cy="252.3" r="1.9" fill="#a8102c"/>
<circle cx="271.9" cy="250.1" r="1.9" fill="#a8102c"/>
<circle cx="275.3" cy="257.6" r="1.9" fill="#a8102c"/>
<circle cx="290.8" cy="254.9" r="1.9" fill="#a8102c"/>
<circle cx="282.4" cy="277.4" r="1.9" fill="#a8102c"/>
<circle cx="325.7" cy="273.5" r="1.9" fill="#a8102c"/>
<line x1="200" y1="208.5" x2="200" y2="304.8" stroke="#4a4a4a" stroke-width="1.4"/>
<line x1="199.3" y1="304.2" x2="339.2" y2="304.2" stroke="#2a2a2a" stroke-width="1.2"/>
<line x1="197.3" y1="211.3" x2="200" y2="211.3" stroke="#3a3a3a" stroke-width="0.9"/>
<text x="193.8" y="214.2" font-size="8.2" fill="#2a2a2a" stroke="#2a2a2a" stroke-width="0.22" text-anchor="end" textLength="8.8" lengthAdjust="spacingAndGlyphs">80</text>
<line x1="197.3" y1="234.3" x2="200" y2="234.3" stroke="#3a3a3a" stroke-width="0.9"/>
<text x="193.8" y="237.2" font-size="8.2" fill="#2a2a2a" stroke="#2a2a2a" stroke-width="0.22" text-anchor="end" textLength="8.8" lengthAdjust="spacingAndGlyphs">60</text>
<line x1="197.3" y1="257.3" x2="200" y2="257.3" stroke="#3a3a3a" stroke-width="0.9"/>
<text x="193.8" y="260.2" font-size="8.2" fill="#2a2a2a" stroke="#2a2a2a" stroke-width="0.22" text-anchor="end" textLength="8.8" lengthAdjust="spacingAndGlyphs">40</text>
<line x1="197.3" y1="280.3" x2="200" y2="280.3" stroke="#3a3a3a" stroke-width="0.9"/>
<text x="193.8" y="283.2" font-size="8.2" fill="#2a2a2a" stroke="#2a2a2a" stroke-width="0.22" text-anchor="end" textLength="8.8" lengthAdjust="spacingAndGlyphs">20</text>
<line x1="197.3" y1="303.3" x2="200" y2="303.3" stroke="#3a3a3a" stroke-width="0.9"/>
<text x="193.8" y="306.2" font-size="8.2" fill="#2a2a2a" stroke="#2a2a2a" stroke-width="0.22" text-anchor="end" textLength="4.4" lengthAdjust="spacingAndGlyphs">0</text>
<line x1="200" y1="304.2" x2="200" y2="306.6" stroke="#3a3a3a" stroke-width="0.8"/>
<text x="200" y="315.8" font-size="8.2" fill="#2a2a2a" stroke="#2a2a2a" stroke-width="0.22" text-anchor="middle" textLength="4.25" lengthAdjust="spacingAndGlyphs">0</text>
<line x1="234.4" y1="304.2" x2="234.4" y2="306.6" stroke="#3a3a3a" stroke-width="0.8"/>
<text x="234.4" y="315.8" font-size="8.2" fill="#2a2a2a" stroke="#2a2a2a" stroke-width="0.22" text-anchor="middle" textLength="8.5" lengthAdjust="spacingAndGlyphs">10</text>
<line x1="268.8" y1="304.2" x2="268.8" y2="306.6" stroke="#3a3a3a" stroke-width="0.8"/>
<text x="268.8" y="315.8" font-size="8.2" fill="#2a2a2a" stroke="#2a2a2a" stroke-width="0.22" text-anchor="middle" textLength="8.5" lengthAdjust="spacingAndGlyphs">20</text>
<line x1="303.2" y1="304.2" x2="303.2" y2="306.6" stroke="#3a3a3a" stroke-width="0.8"/>
<text x="303.2" y="315.8" font-size="8.2" fill="#2a2a2a" stroke="#2a2a2a" stroke-width="0.22" text-anchor="middle" textLength="8.5" lengthAdjust="spacingAndGlyphs">30</text>
<line x1="337.6" y1="304.2" x2="337.6" y2="306.6" stroke="#3a3a3a" stroke-width="0.8"/>
<text x="337.6" y="315.8" font-size="8.2" fill="#2a2a2a" stroke="#2a2a2a" stroke-width="0.22" text-anchor="middle" textLength="8.5" lengthAdjust="spacingAndGlyphs">40</text>
<text transform="translate(181.3,256) rotate(-90)" font-size="8.5" fill="#2a2a2a" stroke="#2a2a2a" stroke-width="0.22" text-anchor="middle" textLength="82.6" lengthAdjust="spacingAndGlyphs">WBC count reduction (%)</text>
<text x="270.4" y="326.3" font-size="8.3" fill="#2a2a2a" stroke="#2a2a2a" stroke-width="0.22" text-anchor="middle" textLength="32.6" lengthAdjust="spacingAndGlyphs">ΔHCT (%)</text>
<text x="211.8" y="281.7" font-size="7.8" fill="#2a2a2a" stroke="#2a2a2a" stroke-width="0.08">R<tspan font-size="5" dy="-3">2</tspan><tspan dy="3"> = .47</tspan></text>
<text x="211.8" y="290.7" font-size="7.8" fill="#2a2a2a" stroke="#2a2a2a" stroke-width="0.08"><tspan font-style="italic">P</tspan> = .0071</text>
<text x="352.5" y="194.4" font-size="10" fill="#222" stroke="#222" stroke-width="0.55" textLength="5.9" lengthAdjust="spacingAndGlyphs">F</text>
<rect x="413.2" y="252.7" width="12" height="50.6" fill="#868d9e"/>
<rect x="433.6" y="243.6" width="12" height="59.7" fill="#d4d6dd"/>
<rect x="453.6" y="276" width="12" height="27.3" fill="#d4d6dd"/>
<rect x="473.5" y="277.8" width="12.5" height="25.5" fill="#868d9e"/>
<circle cx="418.5" cy="228.8" r="1.7" fill="#1a4475"/>
<circle cx="417.45" cy="231.1" r="1.7" fill="#1a4475"/>
<circle cx="420.35" cy="231.1" r="1.7" fill="#1a4475"/>
<circle cx="418.5" cy="233.4" r="1.7" fill="#1a4475"/>
<circle cx="417.45" cy="235.7" r="1.7" fill="#1a4475"/>
<circle cx="420.35" cy="235.7" r="1.7" fill="#1a4475"/>
<circle cx="416.65" cy="238" r="1.7" fill="#1a4475"/>
<circle cx="419.55" cy="238" r="1.7" fill="#1a4475"/>
<circle cx="418.5" cy="240.3" r="1.7" fill="#1a4475"/>
<circle cx="416.65" cy="242.6" r="1.7" fill="#1a4475"/>
<circle cx="419.55" cy="242.6" r="1.7" fill="#1a4475"/>
<circle cx="417.45" cy="244.9" r="1.7" fill="#1a4475"/>
<circle cx="420.35" cy="244.9" r="1.7" fill="#1a4475"/>
<circle cx="415.2" cy="247.2" r="1.7" fill="#1a4475"/>
<circle cx="418.1" cy="247.2" r="1.7" fill="#1a4475"/>
<circle cx="421" cy="247.2" r="1.7" fill="#1a4475"/>
<circle cx="414.55" cy="249.5" r="1.7" fill="#1a4475"/>
<circle cx="417.45" cy="249.5" r="1.7" fill="#1a4475"/>
<circle cx="420.35" cy="249.5" r="1.7" fill="#1a4475"/>
<circle cx="423.25" cy="249.5" r="1.7" fill="#1a4475"/>
<circle cx="412.3" cy="251.8" r="1.7" fill="#1a4475"/>
<circle cx="415.2" cy="251.8" r="1.7" fill="#1a4475"/>
<circle cx="418.1" cy="251.8" r="1.7" fill="#1a4475"/>
<circle cx="421" cy="251.8" r="1.7" fill="#1a4475"/>
<circle cx="423.9" cy="251.8" r="1.7" fill="#1a4475"/>
<circle cx="414.55" cy="254.1" r="1.7" fill="#1a4475"/>
<circle cx="417.45" cy="254.1" r="1.7" fill="#1a4475"/>
<circle cx="420.35" cy="254.1" r="1.7" fill="#1a4475"/>
<circle cx="423.25" cy="254.1" r="1.7" fill="#1a4475"/>
<circle cx="415.2" cy="256.4" r="1.7" fill="#1a4475"/>
<circle cx="418.1" cy="256.4" r="1.7" fill="#1a4475"/>
<circle cx="421" cy="256.4" r="1.7" fill="#1a4475"/>
<circle cx="416" cy="258.7" r="1.7" fill="#1a4475"/>
<circle cx="418.9" cy="258.7" r="1.7" fill="#1a4475"/>
<circle cx="421.8" cy="258.7" r="1.7" fill="#1a4475"/>
<circle cx="415.2" cy="261" r="1.7" fill="#1a4475"/>
<circle cx="418.1" cy="261" r="1.7" fill="#1a4475"/>
<circle cx="421" cy="261" r="1.7" fill="#1a4475"/>
<circle cx="416" cy="263.3" r="1.7" fill="#1a4475"/>
<circle cx="418.9" cy="263.3" r="1.7" fill="#1a4475"/>
<circle cx="421.8" cy="263.3" r="1.7" fill="#1a4475"/>
<circle cx="416.65" cy="265.6" r="1.7" fill="#1a4475"/>
<circle cx="419.55" cy="265.6" r="1.7" fill="#1a4475"/>
<circle cx="417.45" cy="267.9" r="1.7" fill="#1a4475"/>
<circle cx="420.35" cy="267.9" r="1.7" fill="#1a4475"/>
<circle cx="416.65" cy="270.2" r="1.7" fill="#1a4475"/>
<circle cx="419.55" cy="270.2" r="1.7" fill="#1a4475"/>
<circle cx="418.5" cy="272.5" r="1.7" fill="#1a4475"/>
<circle cx="416.65" cy="274.8" r="1.7" fill="#1a4475"/>
<circle cx="419.55" cy="274.8" r="1.7" fill="#1a4475"/>
<circle cx="418.5" cy="277.1" r="1.7" fill="#1a4475"/>
<circle cx="418.5" cy="279.4" r="1.7" fill="#1a4475"/>
<circle cx="418.5" cy="281" r="1.7" fill="#1a4475"/>
<path d="M438.8 224.6L440.6 226.4L438.8 228.2L437 226.4Z" fill="#fff" stroke="#1a4475" stroke-width="0.7"/>
<path d="M437.3 235.5L440.3 238.5M440.3 235.5L437.3 238.5" stroke="#1a4475" stroke-width="0.8"/>
<rect x="432.3" y="243.5" width="3" height="3" fill="#fff" stroke="#1a4475" stroke-width="0.7"/>
<rect x="435.5" y="245" width="3" height="3" fill="#1a4475"/>
<rect x="438.8" y="244.5" width="3" height="3" fill="#fff" stroke="#1a4475" stroke-width="0.7"/>
<rect x="442.3" y="243.8" width="3" height="3" fill="#1a4475"/>
<rect x="434" y="247.3" width="3" height="3" fill="#fff" stroke="#1a4475" stroke-width="0.7"/>
<rect x="439.5" y="247.5" width="3" height="3" fill="#1a4475"/>
<rect x="436.7" y="247" width="3" height="3" fill="#fff" stroke="#1a4475" stroke-width="0.7"/>
<circle cx="438.5" cy="251.5" r="1.5" fill="#fff" stroke="#1a4475" stroke-width="0.7"/>
<path d="M437 256.3L438.8 253.15L435.2 253.15Z" fill="#fff" stroke="#1a4475" stroke-width="0.7"/>
<path d="M441.5 260.3L443.3 257.15L439.7 257.15Z" fill="#1a4475"/>
<path d="M439 261.7L440.8 264.85L437.2 264.85Z" fill="#1a4475"/>
<path d="M458 266.8L461 269.8M461 266.8L458 269.8" stroke="#a8102c" stroke-width="0.8"/>
<rect x="456" y="267.5" width="3" height="3" fill="#a8102c"/>
<circle cx="457" cy="275" r="1.5" fill="#fff" stroke="#a8102c" stroke-width="0.7"/>
<rect x="458.5" y="273" width="3" height="3" fill="#fff" stroke="#a8102c" stroke-width="0.7"/>
<circle cx="462" cy="276.5" r="1.5" fill="#a8102c"/>
<rect x="463" y="276" width="3" height="3" fill="#fff" stroke="#a8102c" stroke-width="0.7"/>
<path d="M455.5 279.3L457.3 276.15L453.7 276.15Z" fill="#fff" stroke="#a8102c" stroke-width="0.7"/>
<path d="M460 277.2L461.8 279L460 280.8L458.2 279Z" fill="#fff" stroke="#a8102c" stroke-width="0.7"/>
<circle cx="462.5" cy="279.5" r="1.5" fill="#fff" stroke="#a8102c" stroke-width="0.7"/>
<path d="M459 285.8L460.8 282.65L457.2 282.65Z" fill="#a8102c"/>
<circle cx="474.4" cy="271.8" r="1.9" fill="#a8102c"/>
<circle cx="484.4" cy="274.4" r="1.9" fill="#a8102c"/>
<circle cx="479.4" cy="275" r="1.9" fill="#a8102c"/>
<circle cx="479.4" cy="281" r="1.9" fill="#a8102c"/>
<circle cx="479.4" cy="285" r="1.9" fill="#a8102c"/>
<line x1="479.4" y1="275" x2="479.4" y2="285" stroke="#a8102c" stroke-width="0.8"/>
<line x1="476" y1="275" x2="483" y2="275" stroke="#a8102c" stroke-width="0.8"/>
<line x1="404.6" y1="213.7" x2="404.6" y2="303.9" stroke="#4a4a4a" stroke-width="1.4"/>
<line x1="403.9" y1="303.3" x2="493.5" y2="303.3" stroke="#2a2a2a" stroke-width="1.2"/>
<line x1="401.9" y1="215.6" x2="404.6" y2="215.6" stroke="#3a3a3a" stroke-width="0.9"/>
<text x="399" y="218.5" font-size="8.2" fill="#2a2a2a" stroke="#2a2a2a" stroke-width="0.22" text-anchor="end" textLength="13.2" lengthAdjust="spacingAndGlyphs">250</text>
<line x1="401.9" y1="233.14" x2="404.6" y2="233.14" stroke="#3a3a3a" stroke-width="0.9"/>
<text x="399" y="236.04" font-size="8.2" fill="#2a2a2a" stroke="#2a2a2a" stroke-width="0.22" text-anchor="end" textLength="13.2" lengthAdjust="spacingAndGlyphs">200</text>
<line x1="401.9" y1="250.68" x2="404.6" y2="250.68" stroke="#3a3a3a" stroke-width="0.9"/>
<text x="399" y="253.58" font-size="8.2" fill="#2a2a2a" stroke="#2a2a2a" stroke-width="0.22" text-anchor="end" textLength="13.2" lengthAdjust="spacingAndGlyphs">150</text>
<line x1="401.9" y1="268.22" x2="404.6" y2="268.22" stroke="#3a3a3a" stroke-width="0.9"/>
<text x="399" y="271.12" font-size="8.2" fill="#2a2a2a" stroke="#2a2a2a" stroke-width="0.22" text-anchor="end" textLength="13.2" lengthAdjust="spacingAndGlyphs">100</text>
<line x1="401.9" y1="285.76" x2="404.6" y2="285.76" stroke="#3a3a3a" stroke-width="0.9"/>
<text x="399" y="288.66" font-size="8.2" fill="#2a2a2a" stroke="#2a2a2a" stroke-width="0.22" text-anchor="end" textLength="8.8" lengthAdjust="spacingAndGlyphs">50</text>
<line x1="401.9" y1="303.3" x2="404.6" y2="303.3" stroke="#3a3a3a" stroke-width="0.9"/>
<text x="399" y="306.2" font-size="8.2" fill="#2a2a2a" stroke="#2a2a2a" stroke-width="0.22" text-anchor="end" textLength="4.4" lengthAdjust="spacingAndGlyphs">0</text>
<line x1="418.5" y1="303.3" x2="418.5" y2="305.8" stroke="#3a3a3a" stroke-width="0.8"/>
<line x1="439" y1="303.3" x2="439" y2="305.8" stroke="#3a3a3a" stroke-width="0.8"/>
<line x1="459.3" y1="303.3" x2="459.3" y2="305.8" stroke="#3a3a3a" stroke-width="0.8"/>
<line x1="479.8" y1="303.3" x2="479.8" y2="305.8" stroke="#3a3a3a" stroke-width="0.8"/>
<text transform="translate(370.2,258.3) rotate(-90)" font-size="8.3" fill="#2a2a2a" stroke="#2a2a2a" stroke-width="0.22" text-anchor="middle" textLength="57.8" lengthAdjust="spacingAndGlyphs">Procedure length</text>
<text transform="translate(380.3,259.4) rotate(-90)" font-size="8.3" fill="#2a2a2a" stroke="#2a2a2a" stroke-width="0.22" text-anchor="middle" textLength="30.9" lengthAdjust="spacingAndGlyphs">(minutes)</text>
<text transform="translate(421.5,310.4) rotate(-90)" font-size="8.6" fill="#2a2a2a" stroke="#2a2a2a" stroke-width="0.22" text-anchor="end" textLength="32.4" lengthAdjust="spacingAndGlyphs">TLP Only</text>
<text transform="translate(442,310.4) rotate(-90)" font-size="8.6" fill="#2a2a2a" stroke="#2a2a2a" stroke-width="0.22" text-anchor="end" textLength="13.2" lengthAdjust="spacingAndGlyphs">TLP</text>
<text transform="translate(462.3,310.4) rotate(-90)" font-size="8.6" fill="#2a2a2a" stroke="#2a2a2a" stroke-width="0.22" text-anchor="end" textLength="15.4" lengthAdjust="spacingAndGlyphs">RCE</text>
<text transform="translate(482.8,310.4) rotate(-90)" font-size="8.6" fill="#2a2a2a" stroke="#2a2a2a" stroke-width="0.22" text-anchor="end" textLength="34.2" lengthAdjust="spacingAndGlyphs">RCE Only</text>
<text x="450" y="337.9" font-size="8.5" fill="#2a2a2a" stroke="#2a2a2a" stroke-width="0.22" text-anchor="middle" textLength="22.5" lengthAdjust="spacingAndGlyphs">Paired</text>
<polyline points="434.3,335.3 434.3,339.7 465.7,339.7 465.7,335.3" fill="none" stroke="#555" stroke-width="0.7"/>
<polyline points="418.7,198 418.7,179.7 479.2,179.7 479.2,186.4" fill="none" stroke="#555" stroke-width="0.7"/>
<polyline points="439,197 439,191.8 479.2,191.8 479.2,267" fill="none" stroke="#555" stroke-width="0.7"/>
<polyline points="418.7,222 418.7,204.3 459.2,204.3 459.2,210.5" fill="none" stroke="#555" stroke-width="0.7"/>
<polyline points="439,221 439,216.6 459.2,216.6 459.2,265.6" fill="none" stroke="#555" stroke-width="0.7"/>
<circle cx="445.5" cy="175.7" r="1.1" fill="#262626"/>
<circle cx="449" cy="175.7" r="1.1" fill="#262626"/>
<circle cx="452.5" cy="175.7" r="1.1" fill="#262626"/>
<circle cx="454.35" cy="187.9" r="1.1" fill="#262626"/>
<circle cx="457.85" cy="187.9" r="1.1" fill="#262626"/>
<circle cx="461.35" cy="187.9" r="1.1" fill="#262626"/>
<circle cx="464.85" cy="187.9" r="1.1" fill="#262626"/>
<circle cx="434.75" cy="200.9" r="1.1" fill="#262626"/>
<circle cx="438.25" cy="200.9" r="1.1" fill="#262626"/>
<circle cx="441.75" cy="200.9" r="1.1" fill="#262626"/>
<circle cx="445.25" cy="200.9" r="1.1" fill="#262626"/>
<circle cx="444.35" cy="212.9" r="1.1" fill="#262626"/>
<circle cx="447.85" cy="212.9" r="1.1" fill="#262626"/>
<circle cx="451.35" cy="212.9" r="1.1" fill="#262626"/>
<circle cx="454.85" cy="212.9" r="1.1" fill="#262626"/>
<rect x="0.5" y="0.5" width="519" height="350" fill="none" stroke="#666" stroke-width="1"/>
</svg>
</body></html>
